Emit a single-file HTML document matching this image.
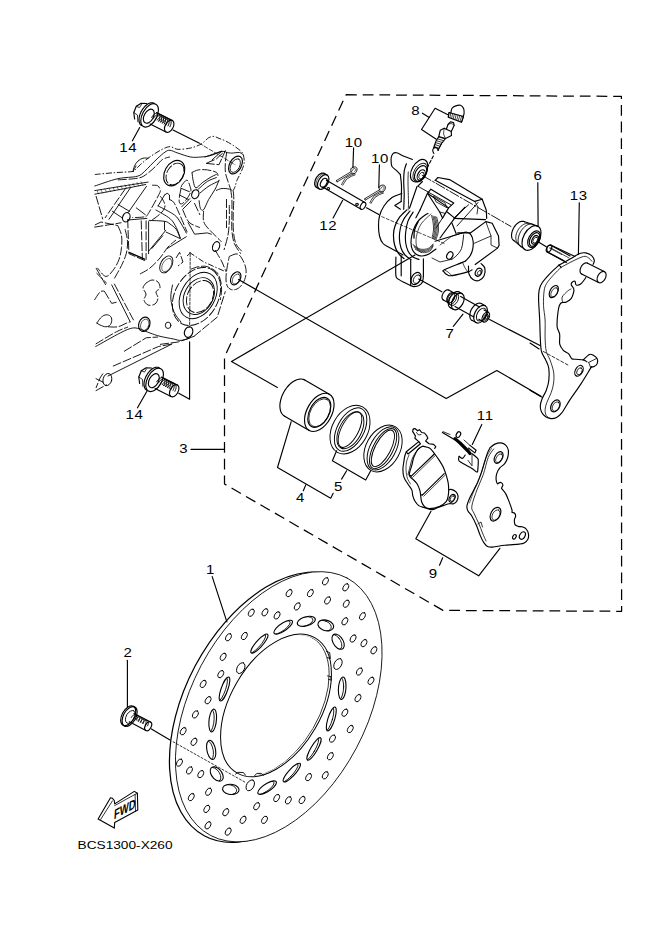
<!DOCTYPE html>
<html><head><meta charset="utf-8"><style>
html,body{margin:0;padding:0;background:#fff;}
svg{display:block;}
</style></head><body>
<svg width="661" height="935" viewBox="0 0 661 935">
<g stroke="#000" fill="none" stroke-width="1.15" stroke-linecap="round" stroke-linejoin="round">
<path d="M346.0,94.7 L621.4,96.4 L621.6,611.3 L443.0,610.4 L224.5,484.0 L224.5,357.0 L346.0,94.7" stroke-dasharray="10.8 5.9" stroke-width="1.25" stroke-linecap="butt"/>
<text x="0" y="0" transform="translate(119.13 151.58) scale(1.25 1)" font-family="Liberation Sans, sans-serif" font-size="12.0" letter-spacing="0.560" fill="#000" stroke="none">14</text>
<text x="0" y="0" transform="translate(125.48 418.58) scale(1.25 1)" font-family="Liberation Sans, sans-serif" font-size="12.0" letter-spacing="0.560" fill="#000" stroke="none">14</text>
<text x="0" y="0" transform="translate(319.28 229.94) scale(1.25 1)" font-family="Liberation Sans, sans-serif" font-size="12.0" letter-spacing="0.560" fill="#000" stroke="none">12</text>
<text x="0" y="0" transform="translate(344.65 146.68) scale(1.25 1)" font-family="Liberation Sans, sans-serif" font-size="12.0" letter-spacing="0.560" fill="#000" stroke="none">10</text>
<text x="0" y="0" transform="translate(370.95 162.98) scale(1.25 1)" font-family="Liberation Sans, sans-serif" font-size="12.0" letter-spacing="0.560" fill="#000" stroke="none">10</text>
<text x="0" y="0" transform="translate(411.33 114.93) scale(1.25 1)" font-family="Liberation Sans, sans-serif" font-size="12.0" letter-spacing="0.560" fill="#000" stroke="none">8</text>
<text x="0" y="0" transform="translate(533.58 179.63) scale(1.25 1)" font-family="Liberation Sans, sans-serif" font-size="12.0" letter-spacing="0.560" fill="#000" stroke="none">6</text>
<text x="0" y="0" transform="translate(569.74 200.03) scale(1.25 1)" font-family="Liberation Sans, sans-serif" font-size="12.0" letter-spacing="0.560" fill="#000" stroke="none">13</text>
<text x="0" y="0" transform="translate(445.52 337.68) scale(1.25 1)" font-family="Liberation Sans, sans-serif" font-size="12.0" letter-spacing="0.560" fill="#000" stroke="none">7</text>
<text x="0" y="0" transform="translate(179.27 453.43) scale(1.25 1)" font-family="Liberation Sans, sans-serif" font-size="12.0" letter-spacing="0.560" fill="#000" stroke="none">3</text>
<text x="0" y="0" transform="translate(296.08 501.73) scale(1.25 1)" font-family="Liberation Sans, sans-serif" font-size="12.0" letter-spacing="0.560" fill="#000" stroke="none">4</text>
<text x="0" y="0" transform="translate(334.09 490.77) scale(1.25 1)" font-family="Liberation Sans, sans-serif" font-size="12.0" letter-spacing="0.560" fill="#000" stroke="none">5</text>
<text x="0" y="0" transform="translate(476.84 419.68) scale(1.25 1)" font-family="Liberation Sans, sans-serif" font-size="12.0" letter-spacing="0.560" fill="#000" stroke="none">11</text>
<text x="0" y="0" transform="translate(428.68 578.03) scale(1.25 1)" font-family="Liberation Sans, sans-serif" font-size="12.0" letter-spacing="0.560" fill="#000" stroke="none">9</text>
<text x="0" y="0" transform="translate(206.11 573.68) scale(1.25 1)" font-family="Liberation Sans, sans-serif" font-size="12.0" letter-spacing="0.560" fill="#000" stroke="none">1</text>
<text x="0" y="0" transform="translate(123.48 656.99) scale(1.25 1)" font-family="Liberation Sans, sans-serif" font-size="12.0" letter-spacing="0.560" fill="#000" stroke="none">2</text>
<text x="0" y="0" transform="translate(77.55 848.61) scale(1.16 1)" font-family="Liberation Sans, sans-serif" font-size="11.8" letter-spacing="0.000" fill="#000" stroke="none">BCS1300-X260</text>
<line x1="353.6" y1="147.9" x2="352.9" y2="167.7" />
<line x1="379.4" y1="164.9" x2="378.8" y2="187.4" />
<line x1="342.7" y1="200.3" x2="333.1" y2="218" />
<line x1="537.8" y1="182.7" x2="538.1" y2="225.4" />
<line x1="579.3" y1="202.7" x2="578.4" y2="254.4" />
<line x1="463" y1="314.2" x2="453.3" y2="326.3" />
<line x1="191" y1="449.4" x2="224" y2="449.4" />
<line x1="305.8" y1="484.9" x2="303.3" y2="490.8" />
<line x1="341.6" y1="479.1" x2="346.6" y2="470.8" />
<line x1="481.8" y1="424.4" x2="472.3" y2="444.5" />
<line x1="442.7" y1="557.8" x2="439.5" y2="565.2" />
<line x1="212.2" y1="576.6" x2="226.9" y2="621.9" />
<line x1="127.4" y1="660.2" x2="127.4" y2="707" />
<line x1="147.2" y1="390.8" x2="137.5" y2="407.8" />
<line x1="139.7" y1="127.5" x2="132.4" y2="140.8" />
<line x1="422.4" y1="113.2" x2="429.3" y2="117.4" />
<path d="M448.4,115.0 L435.1,108.3 L421.5,129.5 L436.3,139.2" />
<path d="M291.2,421.7 L277.5,467.5 L330.7,498.2 L333.2,493.3" />
<path d="M336.6,450.8 L332.4,460.8 L365.7,480.0 L370.7,470.8" />
<path d="M431.0,511.2 L415.8,538.7 L478.7,575.8 L499.9,548.3" />
<line x1="173" y1="130" x2="199" y2="143" />
<path d="M178.7,393.3 L189.6,399.3 L189.6,341.8" />
<path d="M238.5,279.5 L446.2,398.6 L496.8,370.5 L541.0,396.2" />
<path d="M415.0,255.0 L231.5,361.5 L277.4,387.4" />
<line x1="366.5" y1="207.8" x2="378.8" y2="214.6" />
<line x1="433.3" y1="156.1" x2="427.8" y2="166.4" stroke-dasharray="3 2"/>
<line x1="418.7" y1="279" x2="441.8" y2="291.8" />
<line x1="489.6" y1="319.5" x2="540" y2="345.5" />
<line x1="151.4" y1="728.9" x2="170" y2="740" />
<line x1="173.2" y1="741.8" x2="245.8" y2="782.6" stroke-dasharray="2 2" stroke-width="0.8"/>
<g transform="matrix(70.8178 -128.8171 79.2181 43.5505 276.0 706.6)">
</g>
<defs><mask id="mout" maskUnits="userSpaceOnUse" x="0" y="0" width="661" height="935"><rect x="0" y="0" width="661" height="935" fill="#fff"/><ellipse cx="278.8" cy="706.7" rx="145.1" ry="87.30000000000001" transform="rotate(-62.1 278.8 706.7)" fill="#000"/></mask>
<mask id="min" maskUnits="userSpaceOnUse" x="0" y="0" width="661" height="935"><ellipse cx="276.0" cy="705.4" rx="77.4" ry="44.8" transform="rotate(-59.9 276.0 705.4)" fill="#fff"/></mask></defs>
<ellipse cx="278.8" cy="706.7" rx="145.7" ry="87.9" transform="rotate(-62.1 278.8 706.7)" stroke-width="0.8"/>
<g mask="url(#mout)">
<ellipse cx="272.8" cy="707.2" rx="145.7" ry="87.9" transform="rotate(-62.1 272.8 707.2)" stroke-width="1.25"/>
</g>
<ellipse cx="276.0" cy="705.4" rx="78.0" ry="45.4" transform="rotate(-59.9 276.0 705.4)" stroke-width="1.0"/>
<g mask="url(#min)">
<ellipse cx="273.8" cy="705.6" rx="78.0" ry="45.4" transform="rotate(-59.9 273.8 705.6)" stroke-width="0.7"/>
</g>
<path d="M326.5,651.5 L329.7,652.6 L330.4,658.6 L327.3,657.6" stroke-width="0.9"/>
<path d="M327.5,675.9 L330.8,676.5 L331.3,680.2 L328.5,679.3" stroke-width="0.9"/>
<path d="M235.5,774.2 L237.8,772.3 L243.5,772.6 L245.5,775.2" stroke-width="0.9"/>
<path d="M254.8,775.6 L256.8,773.4 L261.3,773.4 L263.5,775.3" stroke-width="0.9"/>
<g transform="matrix(70.8178 -128.8171 79.2181 43.5505 276.0 706.6)">
<circle cx="0.4788" cy="-0.7398" r="0.027" vector-effect="non-scaling-stroke" stroke-width="1"/>
<circle cx="0.5261" cy="-0.6092" r="0.027" vector-effect="non-scaling-stroke" stroke-width="1"/>
<circle cx="0.5473" cy="-0.4754" r="0.027" vector-effect="non-scaling-stroke" stroke-width="1"/>
<circle cx="0.2580" cy="-0.8303" r="0.027" vector-effect="non-scaling-stroke" stroke-width="1"/>
<circle cx="0.3173" cy="-0.6826" r="0.027" vector-effect="non-scaling-stroke" stroke-width="1"/>
<circle cx="0.1238" cy="-0.7772" r="0.027" vector-effect="non-scaling-stroke" stroke-width="1"/>
<circle cx="0.0128" cy="-0.7083" r="0.027" vector-effect="non-scaling-stroke" stroke-width="1"/>
<circle cx="-0.1033" cy="-0.8267" r="0.027" vector-effect="non-scaling-stroke" stroke-width="1"/>
<circle cx="-0.1844" cy="-0.6923" r="0.027" vector-effect="non-scaling-stroke" stroke-width="1"/>
<circle cx="-0.3106" cy="-0.7397" r="0.027" vector-effect="non-scaling-stroke" stroke-width="1"/>
<circle cx="0.9092" cy="-0.1879" r="0.027" vector-effect="non-scaling-stroke" stroke-width="1"/>
<circle cx="0.9399" cy="0.0409" r="0.027" vector-effect="non-scaling-stroke" stroke-width="1"/>
<circle cx="0.7195" cy="-0.4779" r="0.027" vector-effect="non-scaling-stroke" stroke-width="1"/>
<circle cx="0.7893" cy="-0.2714" r="0.027" vector-effect="non-scaling-stroke" stroke-width="1"/>
<circle cx="0.8022" cy="-0.0658" r="0.027" vector-effect="non-scaling-stroke" stroke-width="1"/>
<circle cx="0.8438" cy="0.1331" r="0.027" vector-effect="non-scaling-stroke" stroke-width="1"/>
<circle cx="0.6671" cy="-0.3275" r="0.027" vector-effect="non-scaling-stroke" stroke-width="1"/>
<circle cx="0.8224" cy="0.3567" r="0.027" vector-effect="non-scaling-stroke" stroke-width="1"/>
<circle cx="0.7343" cy="0.2133" r="0.027" vector-effect="non-scaling-stroke" stroke-width="1"/>
<circle cx="0.6586" cy="0.3845" r="0.027" vector-effect="non-scaling-stroke" stroke-width="1"/>
<circle cx="0.6669" cy="0.5146" r="0.027" vector-effect="non-scaling-stroke" stroke-width="1"/>
<circle cx="0.6565" cy="0.6490" r="0.027" vector-effect="non-scaling-stroke" stroke-width="1"/>
<circle cx="0.4826" cy="0.6214" r="0.027" vector-effect="non-scaling-stroke" stroke-width="1"/>
<circle cx="0.4651" cy="0.7834" r="0.027" vector-effect="non-scaling-stroke" stroke-width="1"/>
<circle cx="0.3194" cy="0.7496" r="0.027" vector-effect="non-scaling-stroke" stroke-width="1"/>
<circle cx="0.1894" cy="0.7004" r="0.027" vector-effect="non-scaling-stroke" stroke-width="1"/>
<circle cx="0.1100" cy="0.8396" r="0.027" vector-effect="non-scaling-stroke" stroke-width="1"/>
<circle cx="-0.0056" cy="0.7182" r="0.027" vector-effect="non-scaling-stroke" stroke-width="1"/>
<circle cx="-0.1174" cy="0.7917" r="0.027" vector-effect="non-scaling-stroke" stroke-width="1"/>
<circle cx="-0.3134" cy="0.6917" r="0.027" vector-effect="non-scaling-stroke" stroke-width="1"/>
<circle cx="-0.2480" cy="0.8440" r="0.027" vector-effect="non-scaling-stroke" stroke-width="1"/>
<circle cx="-0.5179" cy="0.6195" r="0.027" vector-effect="non-scaling-stroke" stroke-width="1"/>
<circle cx="-0.4712" cy="0.7507" r="0.027" vector-effect="non-scaling-stroke" stroke-width="1"/>
<circle cx="-0.4508" cy="-0.7685" r="0.027" vector-effect="non-scaling-stroke" stroke-width="1"/>
<circle cx="-0.4786" cy="-0.6073" r="0.027" vector-effect="non-scaling-stroke" stroke-width="1"/>
<circle cx="-0.6501" cy="-0.6370" r="0.027" vector-effect="non-scaling-stroke" stroke-width="1"/>
<circle cx="-0.6638" cy="-0.4985" r="0.027" vector-effect="non-scaling-stroke" stroke-width="1"/>
<circle cx="-0.6488" cy="-0.3692" r="0.027" vector-effect="non-scaling-stroke" stroke-width="1"/>
<circle cx="-0.7282" cy="-0.1998" r="0.027" vector-effect="non-scaling-stroke" stroke-width="1"/>
<circle cx="-0.8171" cy="-0.3388" r="0.027" vector-effect="non-scaling-stroke" stroke-width="1"/>
<circle cx="-0.8366" cy="-0.1256" r="0.027" vector-effect="non-scaling-stroke" stroke-width="1"/>
<circle cx="-0.7940" cy="0.0761" r="0.027" vector-effect="non-scaling-stroke" stroke-width="1"/>
<circle cx="-0.6570" cy="0.3437" r="0.027" vector-effect="non-scaling-stroke" stroke-width="1"/>
<circle cx="-0.5426" cy="0.4939" r="0.027" vector-effect="non-scaling-stroke" stroke-width="1"/>
<circle cx="-0.7826" cy="0.2843" r="0.027" vector-effect="non-scaling-stroke" stroke-width="1"/>
<circle cx="-0.7125" cy="0.4918" r="0.027" vector-effect="non-scaling-stroke" stroke-width="1"/>
<circle cx="-0.9305" cy="-0.0266" r="0.027" vector-effect="non-scaling-stroke" stroke-width="1"/>
<circle cx="-0.9018" cy="0.2028" r="0.027" vector-effect="non-scaling-stroke" stroke-width="1"/>
<ellipse cx="0" cy="0" rx="0.036" ry="0.088" transform="translate(0.4969 -0.3533) rotate(-45.4)" vector-effect="non-scaling-stroke" stroke-width="1.1"/>
<clipPath id="cs0"><ellipse cx="0" cy="0" rx="0.036" ry="0.088" transform="translate(0.4969 -0.3533) rotate(-45.4)"/></clipPath>
<g clip-path="url(#cs0)"><ellipse cx="0" cy="0" rx="0.036" ry="0.088" transform="translate(-0.0102 -0.0211) translate(0.4969 -0.3533) rotate(-45.4)" vector-effect="non-scaling-stroke" stroke-width="0.9"/></g>
<ellipse cx="0" cy="0" rx="0.036" ry="0.088" transform="translate(0.6078 -0.1609) rotate(-24.8)" vector-effect="non-scaling-stroke" stroke-width="1.1"/>
<clipPath id="cs1"><ellipse cx="0" cy="0" rx="0.036" ry="0.088" transform="translate(0.6078 -0.1609) rotate(-24.8)"/></clipPath>
<g clip-path="url(#cs1)"><ellipse cx="0" cy="0" rx="0.036" ry="0.088" transform="translate(-0.0102 -0.0211) translate(0.6078 -0.1609) rotate(-24.8)" vector-effect="non-scaling-stroke" stroke-width="0.9"/></g>
<ellipse cx="0" cy="0" rx="0.036" ry="0.088" transform="translate(0.6473 0.0500) rotate(-5.6)" vector-effect="non-scaling-stroke" stroke-width="1.1"/>
<clipPath id="cs2"><ellipse cx="0" cy="0" rx="0.036" ry="0.088" transform="translate(0.6473 0.0500) rotate(-5.6)"/></clipPath>
<g clip-path="url(#cs2)"><ellipse cx="0" cy="0" rx="0.036" ry="0.088" transform="translate(-0.0102 -0.0211) translate(0.6473 0.0500) rotate(-5.6)" vector-effect="non-scaling-stroke" stroke-width="0.9"/></g>
<ellipse cx="0" cy="0" rx="0.036" ry="0.088" transform="translate(0.5904 0.2561) rotate(13.5)" vector-effect="non-scaling-stroke" stroke-width="1.1"/>
<clipPath id="cs3"><ellipse cx="0" cy="0" rx="0.036" ry="0.088" transform="translate(0.5904 0.2561) rotate(13.5)"/></clipPath>
<g clip-path="url(#cs3)"><ellipse cx="0" cy="0" rx="0.036" ry="0.088" transform="translate(-0.0102 -0.0211) translate(0.5904 0.2561) rotate(13.5)" vector-effect="non-scaling-stroke" stroke-width="0.9"/></g>
<ellipse cx="0" cy="0" rx="0.036" ry="0.088" transform="translate(0.3266 0.5437) rotate(49.0)" vector-effect="non-scaling-stroke" stroke-width="1.1"/>
<clipPath id="cs4"><ellipse cx="0" cy="0" rx="0.036" ry="0.088" transform="translate(0.3266 0.5437) rotate(49.0)"/></clipPath>
<g clip-path="url(#cs4)"><ellipse cx="0" cy="0" rx="0.036" ry="0.088" transform="translate(-0.0102 -0.0211) translate(0.3266 0.5437) rotate(49.0)" vector-effect="non-scaling-stroke" stroke-width="0.9"/></g>
<ellipse cx="0" cy="0" rx="0.036" ry="0.088" transform="translate(0.1073 0.6021) rotate(69.9)" vector-effect="non-scaling-stroke" stroke-width="1.1"/>
<clipPath id="cs5"><ellipse cx="0" cy="0" rx="0.036" ry="0.088" transform="translate(0.1073 0.6021) rotate(69.9)"/></clipPath>
<g clip-path="url(#cs5)"><ellipse cx="0" cy="0" rx="0.036" ry="0.088" transform="translate(-0.0102 -0.0211) translate(0.1073 0.6021) rotate(69.9)" vector-effect="non-scaling-stroke" stroke-width="0.9"/></g>
<ellipse cx="0" cy="0" rx="0.036" ry="0.088" transform="translate(-0.1282 0.5943) rotate(92.2)" vector-effect="non-scaling-stroke" stroke-width="1.1"/>
<clipPath id="cs6"><ellipse cx="0" cy="0" rx="0.036" ry="0.088" transform="translate(-0.1282 0.5943) rotate(92.2)"/></clipPath>
<g clip-path="url(#cs6)"><ellipse cx="0" cy="0" rx="0.036" ry="0.088" transform="translate(-0.0102 -0.0211) translate(-0.1282 0.5943) rotate(92.2)" vector-effect="non-scaling-stroke" stroke-width="0.9"/></g>
<ellipse cx="0" cy="0" rx="0.036" ry="0.088" transform="translate(-0.3417 0.5049) rotate(114.1)" vector-effect="non-scaling-stroke" stroke-width="1.1"/>
<clipPath id="cs7"><ellipse cx="0" cy="0" rx="0.036" ry="0.088" transform="translate(-0.3417 0.5049) rotate(114.1)"/></clipPath>
<g clip-path="url(#cs7)"><ellipse cx="0" cy="0" rx="0.036" ry="0.088" transform="translate(-0.0102 -0.0211) translate(-0.3417 0.5049) rotate(114.1)" vector-effect="non-scaling-stroke" stroke-width="0.9"/></g>
<ellipse cx="0" cy="0" rx="0.036" ry="0.088" transform="translate(-0.5120 0.3454) rotate(136.0)" vector-effect="non-scaling-stroke" stroke-width="1.1"/>
<clipPath id="cs8"><ellipse cx="0" cy="0" rx="0.036" ry="0.088" transform="translate(-0.5120 0.3454) rotate(136.0)"/></clipPath>
<g clip-path="url(#cs8)"><ellipse cx="0" cy="0" rx="0.036" ry="0.088" transform="translate(-0.0102 -0.0211) translate(-0.5120 0.3454) rotate(136.0)" vector-effect="non-scaling-stroke" stroke-width="0.9"/></g>
<ellipse cx="0" cy="0" rx="0.036" ry="0.088" transform="translate(-0.6417 0.0031) rotate(169.7)" vector-effect="non-scaling-stroke" stroke-width="1.1"/>
<clipPath id="cs9"><ellipse cx="0" cy="0" rx="0.036" ry="0.088" transform="translate(-0.6417 0.0031) rotate(169.7)"/></clipPath>
<g clip-path="url(#cs9)"><ellipse cx="0" cy="0" rx="0.036" ry="0.088" transform="translate(-0.0102 -0.0211) translate(-0.6417 0.0031) rotate(169.7)" vector-effect="non-scaling-stroke" stroke-width="0.9"/></g>
<ellipse cx="0" cy="0" rx="0.036" ry="0.088" transform="translate(-0.5961 -0.2157) rotate(-170.1)" vector-effect="non-scaling-stroke" stroke-width="1.1"/>
<clipPath id="cs10"><ellipse cx="0" cy="0" rx="0.036" ry="0.088" transform="translate(-0.5961 -0.2157) rotate(-170.1)"/></clipPath>
<g clip-path="url(#cs10)"><ellipse cx="0" cy="0" rx="0.036" ry="0.088" transform="translate(-0.0102 -0.0211) translate(-0.5961 -0.2157) rotate(-170.1)" vector-effect="non-scaling-stroke" stroke-width="0.9"/></g>
<ellipse cx="0" cy="0" rx="0.036" ry="0.088" transform="translate(-0.4705 -0.3974) rotate(-149.8)" vector-effect="non-scaling-stroke" stroke-width="1.1"/>
<clipPath id="cs11"><ellipse cx="0" cy="0" rx="0.036" ry="0.088" transform="translate(-0.4705 -0.3974) rotate(-149.8)"/></clipPath>
<g clip-path="url(#cs11)"><ellipse cx="0" cy="0" rx="0.036" ry="0.088" transform="translate(-0.0102 -0.0211) translate(-0.4705 -0.3974) rotate(-149.8)" vector-effect="non-scaling-stroke" stroke-width="0.9"/></g>
<ellipse cx="0" cy="0" rx="0.036" ry="0.088" transform="translate(-0.2903 -0.5395) rotate(-128.3)" vector-effect="non-scaling-stroke" stroke-width="1.1"/>
<clipPath id="cs12"><ellipse cx="0" cy="0" rx="0.036" ry="0.088" transform="translate(-0.2903 -0.5395) rotate(-128.3)"/></clipPath>
<g clip-path="url(#cs12)"><ellipse cx="0" cy="0" rx="0.036" ry="0.088" transform="translate(-0.0102 -0.0211) translate(-0.2903 -0.5395) rotate(-128.3)" vector-effect="non-scaling-stroke" stroke-width="0.9"/></g>
<ellipse cx="0" cy="0" rx="0.036" ry="0.088" transform="translate(-0.0639 -0.5930) rotate(-106.1)" vector-effect="non-scaling-stroke" stroke-width="1.1"/>
<clipPath id="cs13"><ellipse cx="0" cy="0" rx="0.036" ry="0.088" transform="translate(-0.0639 -0.5930) rotate(-106.1)"/></clipPath>
<g clip-path="url(#cs13)"><ellipse cx="0" cy="0" rx="0.036" ry="0.088" transform="translate(-0.0102 -0.0211) translate(-0.0639 -0.5930) rotate(-106.1)" vector-effect="non-scaling-stroke" stroke-width="0.9"/></g>
<ellipse cx="0" cy="0" rx="0.036" ry="0.088" transform="translate(0.3212 -0.4967) rotate(-67.1)" vector-effect="non-scaling-stroke" stroke-width="1.1"/>
<clipPath id="cs14"><ellipse cx="0" cy="0" rx="0.036" ry="0.088" transform="translate(0.3212 -0.4967) rotate(-67.1)"/></clipPath>
<g clip-path="url(#cs14)"><ellipse cx="0" cy="0" rx="0.036" ry="0.088" transform="translate(-0.0102 -0.0211) translate(0.3212 -0.4967) rotate(-67.1)" vector-effect="non-scaling-stroke" stroke-width="0.9"/></g>
<circle cx="0.1142" cy="-0.5464" r="0.04" vector-effect="non-scaling-stroke" stroke-width="1"/>
<circle cx="0.4571" cy="0.3740" r="0.04" vector-effect="non-scaling-stroke" stroke-width="1"/>
<circle cx="-0.5534" cy="0.1703" r="0.04" vector-effect="non-scaling-stroke" stroke-width="1"/>
</g>
<ellipse cx="319.3" cy="412.4" rx="20.7" ry="12.4" transform="rotate(-61.0 319.3 412.4)" />
<line x1="329.3355591390992" y1="394.2953720622145" x2="304.73555913909917" y2="379.99537206221447" />
<line x1="309.26444086090083" y1="430.5046279377855" x2="284.6644408609008" y2="416.20462793778546" />
<path d="M284.7,416.2 L284.0,415.8 L283.3,415.2 L282.7,414.6 L282.2,414.0 L281.7,413.2 L281.2,412.4 L280.8,411.5 L280.5,410.6 L280.3,409.6 L280.1,408.6 L280.0,407.5 L279.9,406.4 L279.9,405.2 L280.0,404.0 L280.1,402.8 L280.4,401.5 L280.6,400.3 L281.0,399.0 L281.4,397.7 L281.8,396.4 L282.3,395.2 L282.9,393.9 L283.5,392.7 L284.2,391.5 L284.9,390.3 L285.7,389.2 L286.5,388.0 L287.3,387.0 L288.2,386.0 L289.1,385.0 L290.0,384.1 L290.9,383.3 L291.9,382.5 L292.9,381.8 L293.9,381.2 L294.9,380.6 L295.8,380.2 L296.8,379.8 L297.8,379.5 L298.8,379.2 L299.7,379.1 L300.6,379.0 L301.5,379.0 L302.4,379.2 L303.2,379.4 L304.0,379.6 L304.7,380.0" />
<ellipse cx="319.3" cy="412.4" rx="16.2" ry="9.7" transform="rotate(-61.0 319.3 412.4)" />
<ellipse cx="319.7" cy="412.7" rx="15.2" ry="9.1" transform="rotate(-61.0 319.7 412.7)" stroke-width="0.7"/>
<ellipse cx="350.0" cy="429.6" rx="26.0" ry="17.8" transform="rotate(-61 350.0 429.6)" stroke-width="0.95"/>
<ellipse cx="350.6" cy="429.6" rx="23.6" ry="13.3" transform="rotate(-61.5 350.6 429.6)" stroke-width="0.95"/>
<ellipse cx="350.4" cy="430.3" rx="20.0" ry="11.0" transform="rotate(-62 350.4 430.3)" stroke-width="0.95"/>
<ellipse cx="350.0" cy="429.6" rx="19.6" ry="8.6" transform="rotate(-62.5 350.0 429.6)" stroke-width="0.95"/>
<ellipse cx="383.0" cy="448.5" rx="25.0" ry="17.0" transform="rotate(-61 383.0 448.5)" stroke-width="0.95"/>
<ellipse cx="383.0" cy="448.4" rx="23.6" ry="12.8" transform="rotate(-61.5 383.0 448.4)" stroke-width="0.95"/>
<ellipse cx="383.1" cy="448.6" rx="22.2" ry="9.9" transform="rotate(-62 383.1 448.6)" stroke-width="0.95"/>
<ellipse cx="382.9" cy="448.4" rx="20.2" ry="7.8" transform="rotate(-62.5 382.9 448.4)" stroke-width="0.95"/>
<path d="M134.6,119.0 L133.8,112.5 L136.3,106.3 L140.8,103.4 L146.5,103.5" />
<path d="M136.3,106.3 L139.5,107.6 L141.5,104.5" stroke-width="0.8"/>
<path d="M133.8,112.5 L137.5,115.0 L137.8,121.8" stroke-width="0.8"/>
<ellipse cx="149.6" cy="115.4" rx="12.8" ry="7.2" transform="rotate(-61.0 149.6 115.4)" />
<path d="M141.6,125.6 L141.2,125.4 L140.9,125.1 L140.5,124.7 L140.2,124.3 L139.9,123.9 L139.7,123.4 L139.5,122.8 L139.3,122.3 L139.2,121.7 L139.1,121.1 L139.0,120.4 L139.0,119.7 L139.0,119.0 L139.1,118.3 L139.2,117.5 L139.3,116.7 L139.5,116.0 L139.7,115.2 L140.0,114.4 L140.3,113.6 L140.6,112.9 L141.0,112.1 L141.3,111.3 L141.8,110.6 L142.2,109.8 L142.7,109.1 L143.2,108.4 L143.7,107.8 L144.2,107.1 L144.7,106.6 L145.3,106.0 L145.9,105.5 L146.5,105.0 L147.0,104.5 L147.6,104.1 L148.2,103.8 L148.8,103.5 L149.4,103.2 L150.0,103.0 L150.5,102.9 L151.1,102.8 L151.6,102.7 L152.2,102.7 L152.7,102.8 L153.2,102.9 L153.6,103.0 L154.1,103.2" />
<ellipse cx="148.8" cy="116.2" rx="7.6" ry="4.6" transform="rotate(-61.0 148.8 116.2)" />
<ellipse cx="169.2" cy="126.3" rx="6.6" ry="4.0" transform="rotate(-61.0 169.2 126.3)" />
<line x1="172.3997434936258" y1="120.52750993287998" x2="156.49974349362583" y2="112.52750993287998" />
<line x1="166.00025650637417" y1="132.07249006712001" x2="150.1002565063742" y2="124.07249006712001" />
<path d="M151.7,117.3 L152.3,116.4 L152.9,115.6 L153.6,114.8 L154.4,114.2 L155.2,113.7 L156.0,113.4 L156.7,113.2 L157.4,113.2 L158.1,113.3 L158.6,113.6 L159.1,114.1 L159.5,114.7 L159.7,115.5 L159.9,116.3 L159.9,117.2 L159.7,118.2 L159.5,119.2 L159.1,120.2 L158.6,121.2" stroke-width="0.95"/>
<path d="M153.6,118.3 L154.2,117.3 L154.8,116.5 L155.5,115.7 L156.3,115.1 L157.0,114.6 L157.8,114.3 L158.6,114.1 L159.3,114.1 L159.9,114.3 L160.5,114.6 L161.0,115.1 L161.4,115.7 L161.6,116.4 L161.7,117.2 L161.7,118.2 L161.6,119.1 L161.4,120.1 L161.0,121.1 L160.5,122.1" stroke-width="0.95"/>
<path d="M155.4,119.2 L156.0,118.3 L156.7,117.4 L157.4,116.7 L158.1,116.1 L158.9,115.6 L159.7,115.2 L160.5,115.1 L161.2,115.1 L161.8,115.2 L162.4,115.5 L162.9,116.0 L163.2,116.6 L163.5,117.3 L163.6,118.2 L163.6,119.1 L163.5,120.1 L163.2,121.1 L162.9,122.1 L162.4,123.0" stroke-width="0.95"/>
<path d="M157.3,120.1 L157.9,119.2 L158.5,118.4 L159.3,117.6 L160.0,117.0 L160.8,116.5 L161.6,116.2 L162.3,116.0 L163.0,116.0 L163.7,116.2 L164.3,116.5 L164.7,116.9 L165.1,117.5 L165.4,118.3 L165.5,119.1 L165.5,120.0 L165.4,121.0 L165.1,122.0 L164.7,123.0 L164.2,124.0" stroke-width="0.95"/>
<path d="M159.2,121.1 L159.8,120.2 L160.4,119.3 L161.1,118.6 L161.9,117.9 L162.7,117.5 L163.4,117.1 L164.2,116.9 L164.9,116.9 L165.6,117.1 L166.1,117.4 L166.6,117.9 L167.0,118.5 L167.2,119.2 L167.4,120.1 L167.4,121.0 L167.2,121.9 L167.0,122.9 L166.6,123.9 L166.1,124.9" stroke-width="0.95"/>
<path d="M161.1,122.0 L161.6,121.1 L162.3,120.3 L163.0,119.5 L163.8,118.9 L164.5,118.4 L165.3,118.1 L166.1,117.9 L166.8,117.9 L167.4,118.0 L168.0,118.4 L168.5,118.8 L168.8,119.4 L169.1,120.2 L169.2,121.0 L169.2,121.9 L169.1,122.9 L168.8,123.9 L168.5,124.9 L168.0,125.9" stroke-width="0.95"/>
<path d="M162.9,123.0 L163.5,122.0 L164.2,121.2 L164.9,120.5 L165.6,119.8 L166.4,119.3 L167.2,119.0 L167.9,118.8 L168.6,118.8 L169.3,119.0 L169.9,119.3 L170.3,119.8 L170.7,120.4 L171.0,121.1 L171.1,121.9 L171.1,122.9 L171.0,123.8 L170.7,124.8 L170.3,125.8 L169.9,126.8" stroke-width="0.95"/>
<path d="M139.6,383.5 L138.8,377.0 L141.3,370.8 L145.8,367.9 L151.5,368.0" />
<path d="M141.3,370.8 L144.5,372.1 L146.5,369.0" stroke-width="0.8"/>
<path d="M138.8,377.0 L142.5,379.5 L142.8,386.3" stroke-width="0.8"/>
<ellipse cx="154.6" cy="379.9" rx="12.8" ry="7.2" transform="rotate(-61.0 154.6 379.9)" />
<path d="M146.6,390.1 L146.2,389.9 L145.9,389.6 L145.5,389.2 L145.2,388.8 L144.9,388.4 L144.7,387.9 L144.5,387.3 L144.3,386.8 L144.2,386.2 L144.1,385.6 L144.0,384.9 L144.0,384.2 L144.0,383.5 L144.1,382.8 L144.2,382.0 L144.3,381.2 L144.5,380.5 L144.7,379.7 L145.0,378.9 L145.3,378.1 L145.6,377.4 L146.0,376.6 L146.3,375.8 L146.8,375.1 L147.2,374.3 L147.7,373.6 L148.2,372.9 L148.7,372.3 L149.2,371.6 L149.7,371.1 L150.3,370.5 L150.9,370.0 L151.5,369.5 L152.0,369.0 L152.6,368.6 L153.2,368.3 L153.8,368.0 L154.4,367.7 L155.0,367.5 L155.5,367.4 L156.1,367.3 L156.6,367.2 L157.2,367.2 L157.7,367.3 L158.2,367.4 L158.6,367.5 L159.1,367.7" />
<ellipse cx="153.8" cy="380.7" rx="7.6" ry="4.6" transform="rotate(-61.0 153.8 380.7)" />
<ellipse cx="174.2" cy="390.8" rx="6.6" ry="4.0" transform="rotate(-61.0 174.2 390.8)" />
<line x1="177.3997434936258" y1="385.02750993288" x2="161.49974349362583" y2="377.02750993288" />
<line x1="171.00025650637417" y1="396.57249006712004" x2="155.1002565063742" y2="388.57249006712004" />
<path d="M156.7,381.8 L157.3,380.9 L157.9,380.1 L158.6,379.3 L159.4,378.7 L160.2,378.2 L161.0,377.9 L161.7,377.7 L162.4,377.7 L163.1,377.8 L163.6,378.1 L164.1,378.6 L164.5,379.2 L164.7,380.0 L164.9,380.8 L164.9,381.7 L164.7,382.7 L164.5,383.7 L164.1,384.7 L163.6,385.7" stroke-width="0.95"/>
<path d="M158.6,382.8 L159.2,381.8 L159.8,381.0 L160.5,380.2 L161.3,379.6 L162.0,379.1 L162.8,378.8 L163.6,378.6 L164.3,378.6 L164.9,378.8 L165.5,379.1 L166.0,379.6 L166.4,380.2 L166.6,380.9 L166.7,381.7 L166.7,382.7 L166.6,383.6 L166.4,384.6 L166.0,385.6 L165.5,386.6" stroke-width="0.95"/>
<path d="M160.4,383.7 L161.0,382.8 L161.7,381.9 L162.4,381.2 L163.1,380.6 L163.9,380.1 L164.7,379.7 L165.5,379.6 L166.2,379.6 L166.8,379.7 L167.4,380.0 L167.9,380.5 L168.2,381.1 L168.5,381.8 L168.6,382.7 L168.6,383.6 L168.5,384.6 L168.2,385.6 L167.9,386.6 L167.4,387.5" stroke-width="0.95"/>
<path d="M162.3,384.6 L162.9,383.7 L163.5,382.9 L164.3,382.1 L165.0,381.5 L165.8,381.0 L166.6,380.7 L167.3,380.5 L168.0,380.5 L168.7,380.7 L169.3,381.0 L169.7,381.4 L170.1,382.0 L170.4,382.8 L170.5,383.6 L170.5,384.5 L170.4,385.5 L170.1,386.5 L169.7,387.5 L169.2,388.5" stroke-width="0.95"/>
<path d="M164.2,385.6 L164.8,384.7 L165.4,383.8 L166.1,383.1 L166.9,382.4 L167.7,382.0 L168.4,381.6 L169.2,381.4 L169.9,381.4 L170.6,381.6 L171.1,381.9 L171.6,382.4 L172.0,383.0 L172.2,383.7 L172.4,384.6 L172.4,385.5 L172.2,386.4 L172.0,387.4 L171.6,388.4 L171.1,389.4" stroke-width="0.95"/>
<path d="M166.1,386.5 L166.6,385.6 L167.3,384.8 L168.0,384.0 L168.8,383.4 L169.5,382.9 L170.3,382.6 L171.1,382.4 L171.8,382.4 L172.4,382.5 L173.0,382.9 L173.5,383.3 L173.8,383.9 L174.1,384.7 L174.2,385.5 L174.2,386.4 L174.1,387.4 L173.8,388.4 L173.5,389.4 L173.0,390.4" stroke-width="0.95"/>
<path d="M167.9,387.5 L168.5,386.5 L169.2,385.7 L169.9,385.0 L170.6,384.3 L171.4,383.8 L172.2,383.5 L172.9,383.3 L173.6,383.3 L174.3,383.5 L174.9,383.8 L175.3,384.3 L175.7,384.9 L176.0,385.6 L176.1,386.4 L176.1,387.4 L176.0,388.3 L175.7,389.3 L175.3,390.3 L174.9,391.3" stroke-width="0.95"/>
<ellipse cx="128.2" cy="715.7" rx="10.8" ry="6.2" transform="rotate(-61.0 128.2 715.7)" />
<ellipse cx="129.6" cy="716.5" rx="10.8" ry="6.2" transform="rotate(-61.0 129.6 716.5)" />
<ellipse cx="130.4" cy="716.9" rx="7.0" ry="4.2" transform="rotate(-61.0 130.4 716.9)" stroke-width="0.8"/>
<ellipse cx="148.2" cy="726.3" rx="4.8" ry="2.9" transform="rotate(-61.0 148.2 726.3)" />
<line x1="150.5270861771824" y1="722.1018254057309" x2="134.0270861771824" y2="713.441825405731" />
<line x1="145.87291382281757" y1="730.498174594269" x2="129.37291382281757" y2="721.8381745942692" />
<path d="M131.4,717.4 L131.8,716.7 L132.3,716.1 L132.8,715.6 L133.3,715.1 L133.9,714.8 L134.5,714.5 L135.0,714.4 L135.5,714.4 L136.0,714.5 L136.4,714.7 L136.8,715.1 L137.0,715.5 L137.2,716.0 L137.3,716.7 L137.3,717.3 L137.2,718.0 L137.1,718.8 L136.8,719.5 L136.4,720.2" stroke-width="0.95"/>
<path d="M133.6,718.5 L134.0,717.9 L134.5,717.3 L135.0,716.7 L135.5,716.3 L136.1,715.9 L136.7,715.7 L137.2,715.5 L137.7,715.5 L138.2,715.6 L138.6,715.9 L139.0,716.2 L139.2,716.7 L139.4,717.2 L139.5,717.8 L139.5,718.5 L139.4,719.2 L139.3,719.9 L139.0,720.6 L138.6,721.4" stroke-width="0.95"/>
<path d="M135.8,719.7 L136.2,719.0 L136.7,718.4 L137.2,717.9 L137.7,717.4 L138.3,717.1 L138.9,716.8 L139.4,716.7 L139.9,716.7 L140.4,716.8 L140.8,717.0 L141.2,717.4 L141.4,717.8 L141.6,718.4 L141.7,719.0 L141.7,719.6 L141.6,720.3 L141.5,721.1 L141.2,721.8 L140.8,722.5" stroke-width="0.95"/>
<path d="M138.0,720.9 L138.4,720.2 L138.9,719.6 L139.4,719.0 L139.9,718.6 L140.5,718.2 L141.1,718.0 L141.6,717.8 L142.1,717.8 L142.6,718.0 L143.0,718.2 L143.4,718.5 L143.6,719.0 L143.8,719.5 L143.9,720.1 L143.9,720.8 L143.8,721.5 L143.7,722.2 L143.4,723.0 L143.0,723.7" stroke-width="0.95"/>
<path d="M140.2,722.0 L140.6,721.3 L141.1,720.7 L141.6,720.2 L142.1,719.7 L142.7,719.4 L143.3,719.1 L143.8,719.0 L144.3,719.0 L144.8,719.1 L145.2,719.3 L145.6,719.7 L145.8,720.1 L146.0,720.7 L146.1,721.3 L146.1,721.9 L146.0,722.7 L145.9,723.4 L145.6,724.1 L145.2,724.8" stroke-width="0.95"/>
<path d="M142.4,723.2 L142.8,722.5 L143.3,721.9 L143.8,721.3 L144.3,720.9 L144.9,720.5 L145.5,720.3 L146.0,720.2 L146.5,720.2 L147.0,720.3 L147.4,720.5 L147.8,720.8 L148.0,721.3 L148.2,721.8 L148.3,722.4 L148.3,723.1 L148.2,723.8 L148.1,724.5 L147.8,725.3 L147.4,726.0" stroke-width="0.95"/>
<ellipse cx="363.0" cy="205.8" rx="3.9" ry="2.3" transform="rotate(-61.0 363.0 205.8)" />
<line x1="364.8907575189607" y1="202.38898314215638" x2="326.3907575189607" y2="180.18898314215636" />
<line x1="361.1092424810393" y1="209.21101685784365" x2="322.6092424810393" y2="187.01101685784363" />
<ellipse cx="323.2" cy="182.0" rx="8.0" ry="4.8" transform="rotate(-61.0 323.2 182.0)" />
<line x1="327.0784769619707" y1="175.00304234288484" x2="324.2784769619707" y2="173.45104234288485" />
<line x1="319.3215230380293" y1="188.99695765711516" x2="316.5215230380293" y2="187.44495765711517" />
<path d="M316.5,187.4 L316.2,187.3 L316.0,187.1 L315.8,186.8 L315.6,186.6 L315.4,186.3 L315.2,186.0 L315.0,185.6 L314.9,185.3 L314.8,184.9 L314.8,184.5 L314.7,184.1 L314.7,183.6 L314.7,183.2 L314.7,182.7 L314.8,182.3 L314.9,181.8 L315.0,181.3 L315.1,180.8 L315.2,180.3 L315.4,179.8 L315.6,179.3 L315.8,178.8 L316.1,178.4 L316.3,177.9 L316.6,177.4 L316.9,177.0 L317.2,176.6 L317.5,176.2 L317.9,175.8 L318.2,175.4 L318.6,175.0 L318.9,174.7 L319.3,174.4 L319.7,174.2 L320.1,173.9 L320.5,173.7 L320.8,173.5 L321.2,173.4 L321.6,173.2 L322.0,173.2 L322.3,173.1 L322.7,173.1 L323.0,173.1 L323.4,173.1 L323.7,173.2 L324.0,173.3 L324.3,173.5" stroke-width="1.2"/>
<path d="M317.9,188.2 L317.5,187.9 L317.1,187.6 L316.8,187.1 L316.5,186.6 L316.3,186.0 L316.2,185.4 L316.1,184.7 L316.1,184.0 L316.1,183.2 L316.3,182.4 L316.5,181.7 L316.7,180.9 L317.0,180.1 L317.4,179.3 L317.8,178.5 L318.3,177.8 L318.8,177.1 L319.3,176.5 L319.9,175.9 L320.5,175.4 L321.1,174.9 L321.7,174.5 L322.3,174.2 L323.0,174.0 L323.6,173.9 L324.1,173.9 L324.7,173.9 L325.2,174.0 L325.7,174.2" stroke-width="0.7"/>
<ellipse cx="323.8" cy="182.8" rx="4.8" ry="2.9" transform="rotate(-61.0 323.8 182.8)" />
<ellipse cx="328.3" cy="188.6" rx="1.3" ry="1.1" transform="rotate(0 328.3 188.6)" />
<ellipse cx="357.0" cy="204.3" rx="1.3" ry="1.1" transform="rotate(0 357.0 204.3)" />
<path d="M351.2,171.6 L336.6,180.4" stroke-width="0.8"/>
<path d="M351.8,173.0 L337.2,181.8" stroke-width="0.8"/>
<path d="M336.6,180.4 L336.3,181.3 L337.2,181.8" stroke-width="0.8"/>
<path d="M351.2,171.6 C351.1,171.2 350.5,169.7 350.8,169.0 C351.1,168.3 352.0,167.5 352.8,167.2 C353.6,166.9 354.9,166.8 355.6,167.0 C356.3,167.2 356.8,167.9 357.0,168.6 C357.2,169.3 357.0,170.6 356.6,171.4 C356.2,172.2 355.4,173.3 354.6,173.6 C353.8,173.9 352.3,173.1 351.8,173.0" stroke-width="0.9"/>
<path d="M352.4,170.8 C352.6,170.5 352.9,169.2 353.4,168.8 C353.9,168.4 354.8,168.4 355.2,168.6 C355.6,168.8 355.8,169.6 355.6,170.2 C355.4,170.8 354.4,171.7 354.2,172.0" stroke-width="0.6"/>
<path d="M354.6,173.6 C354.0,173.8 352.1,174.5 351.0,175.0 C349.9,175.5 349.0,176.2 348.2,176.6 C347.4,177.0 346.6,177.1 346.0,177.6 C345.4,178.1 344.9,178.8 344.4,179.6 C343.9,180.4 343.3,181.4 342.8,182.2 C342.3,183.0 341.8,184.2 341.6,184.6" stroke-width="0.8"/>
<path d="M355.2,174.8 C354.6,175.0 352.7,175.7 351.6,176.2 C350.5,176.7 349.6,177.4 348.8,177.9 C348.0,178.4 347.4,178.5 346.8,179.0 C346.2,179.5 345.9,180.3 345.4,181.0 C344.9,181.7 344.2,182.7 343.8,183.4 C343.4,184.1 343.0,184.9 342.8,185.2" stroke-width="0.8"/>
<path d="M379.5,189.8 L364.9,198.6" stroke-width="0.8"/>
<path d="M380.1,191.2 L365.5,200.0" stroke-width="0.8"/>
<path d="M364.9,198.6 L364.6,199.5 L365.5,200.0" stroke-width="0.8"/>
<path d="M379.5,189.8 C379.4,189.4 378.8,187.9 379.1,187.2 C379.4,186.5 380.3,185.7 381.1,185.4 C381.9,185.1 383.2,185.0 383.9,185.2 C384.6,185.4 385.1,186.1 385.3,186.8 C385.5,187.5 385.3,188.8 384.9,189.6 C384.5,190.4 383.7,191.5 382.9,191.8 C382.1,192.1 380.6,191.3 380.1,191.2" stroke-width="0.9"/>
<path d="M380.7,189.0 C380.9,188.7 381.2,187.4 381.7,187.0 C382.2,186.6 383.1,186.6 383.5,186.8 C383.9,187.0 384.1,187.8 383.9,188.4 C383.7,189.0 382.7,189.9 382.5,190.2" stroke-width="0.6"/>
<path d="M382.9,191.8 C382.3,192.0 380.4,192.7 379.3,193.2 C378.2,193.7 377.3,194.4 376.5,194.8 C375.7,195.2 374.9,195.3 374.3,195.8 C373.7,196.3 373.2,197.0 372.7,197.8 C372.2,198.6 371.6,199.6 371.1,200.4 C370.6,201.2 370.1,202.4 369.9,202.8" stroke-width="0.8"/>
<path d="M383.5,193.0 C382.9,193.2 381.0,193.9 379.9,194.4 C378.8,194.9 377.9,195.6 377.1,196.1 C376.3,196.6 375.7,196.7 375.1,197.2 C374.5,197.7 374.2,198.5 373.7,199.2 C373.2,199.9 372.5,200.9 372.1,201.6 C371.7,202.3 371.3,203.1 371.1,203.4" stroke-width="0.8"/>
<ellipse cx="450.8" cy="297.7" rx="5.6" ry="3.4" transform="rotate(-61.0 450.8 297.7)" />
<line x1="453.5274338733795" y1="292.7696296400194" x2="448.7149338733795" y2="290.10212964001937" />
<line x1="448.0975661266205" y1="302.56537035998065" x2="443.2850661266205" y2="299.89787035998063" />
<path d="M443.3,299.9 L443.1,299.8 L442.9,299.6 L442.8,299.5 L442.6,299.3 L442.5,299.1 L442.4,298.9 L442.3,298.6 L442.2,298.4 L442.1,298.1 L442.0,297.8 L442.0,297.5 L442.0,297.2 L442.0,296.9 L442.0,296.6 L442.1,296.3 L442.1,295.9 L442.2,295.6 L442.3,295.2 L442.4,294.9 L442.5,294.6 L442.7,294.2 L442.8,293.9 L443.0,293.5 L443.2,293.2 L443.3,292.9 L443.6,292.6 L443.8,292.3 L444.0,292.0 L444.2,291.7 L444.5,291.5 L444.7,291.2 L445.0,291.0 L445.2,290.8 L445.5,290.6 L445.8,290.4 L446.0,290.3 L446.3,290.1 L446.6,290.0 L446.8,290.0 L447.1,289.9 L447.4,289.9 L447.6,289.8 L447.8,289.8 L448.1,289.9 L448.3,289.9 L448.5,290.0 L448.7,290.1" />
<ellipse cx="452.1" cy="298.4" rx="6.6" ry="4.0" transform="rotate(-61.0 452.1 298.4)" stroke-width="0.8"/>
<ellipse cx="453.9" cy="299.4" rx="6.8" ry="4.1" transform="rotate(-61.0 453.9 299.4)" stroke-width="0.8"/>
<ellipse cx="457.8" cy="301.5" rx="9.0" ry="5.4" transform="rotate(-61.0 457.8 301.5)" />
<line x1="462.17578658221703" y1="293.67592263574545" x2="459.11328658221703" y2="291.97842263574546" />
<line x1="453.44921341778297" y1="309.4190773642546" x2="450.38671341778297" y2="307.7215773642546" />
<path d="M450.4,307.7 L450.1,307.5 L449.8,307.3 L449.5,307.0 L449.3,306.8 L449.1,306.4 L448.9,306.1 L448.7,305.7 L448.6,305.3 L448.5,304.9 L448.4,304.4 L448.3,303.9 L448.3,303.4 L448.3,302.9 L448.4,302.4 L448.4,301.9 L448.5,301.3 L448.6,300.8 L448.8,300.2 L448.9,299.7 L449.1,299.1 L449.4,298.6 L449.6,298.0 L449.9,297.5 L450.2,297.0 L450.5,296.5 L450.8,296.0 L451.2,295.5 L451.5,295.0 L451.9,294.6 L452.3,294.2 L452.7,293.8 L453.1,293.4 L453.5,293.1 L454.0,292.8 L454.4,292.5 L454.8,292.3 L455.2,292.0 L455.7,291.9 L456.1,291.7 L456.5,291.6 L456.9,291.6 L457.3,291.6 L457.7,291.6 L458.1,291.6 L458.4,291.7 L458.8,291.8 L459.1,292.0" />
<line x1="479.43689579742875" y1="306.9022056985915" x2="460.62439579742875" y2="296.4747056985915" />
<line x1="473.81310420257125" y1="317.04779430140854" x2="455.00060420257125" y2="306.62029430140853" />
<ellipse cx="480.6" cy="314.2" rx="9.6" ry="5.8" transform="rotate(-61.0 480.6 314.2)" />
<line x1="485.21667235436485" y1="305.76115081146185" x2="481.27917235436485" y2="303.57865081146184" />
<line x1="475.90832764563515" y1="322.5538491885382" x2="471.97082764563515" y2="320.3713491885382" />
<path d="M472.0,320.4 L471.6,320.2 L471.3,319.9 L471.1,319.6 L470.8,319.3 L470.6,319.0 L470.4,318.6 L470.2,318.2 L470.1,317.8 L469.9,317.3 L469.9,316.8 L469.8,316.3 L469.8,315.8 L469.8,315.3 L469.8,314.7 L469.9,314.1 L470.0,313.6 L470.1,313.0 L470.3,312.4 L470.4,311.8 L470.6,311.2 L470.9,310.6 L471.1,310.0 L471.4,309.5 L471.7,308.9 L472.1,308.4 L472.4,307.8 L472.8,307.3 L473.2,306.8 L473.6,306.4 L474.0,305.9 L474.4,305.5 L474.9,305.1 L475.3,304.7 L475.8,304.4 L476.2,304.1 L476.7,303.9 L477.2,303.7 L477.6,303.5 L478.1,303.3 L478.5,303.2 L478.9,303.2 L479.4,303.1 L479.8,303.1 L480.2,303.2 L480.6,303.3 L480.9,303.4 L481.3,303.6" />
<ellipse cx="481.4" cy="314.6" rx="7.0" ry="4.2" transform="rotate(-61.0 481.4 314.6)" stroke-width="0.9"/>
<ellipse cx="485.8" cy="317.1" rx="5.4" ry="3.2" transform="rotate(-61.0 485.8 317.1)" />
<line x1="488.43047194933024" y1="312.34455358144726" x2="484.05547194933024" y2="309.91955358144725" />
<line x1="483.19452805066976" y1="321.79044641855273" x2="478.81952805066976" y2="319.3654464185527" />
<ellipse cx="486.1" cy="317.2" rx="3.4" ry="2.0" transform="rotate(-61.0 486.1 317.2)" stroke-width="0.8"/>
<ellipse cx="486.4" cy="317.4" rx="1.9" ry="1.1" transform="rotate(-61.0 486.4 317.4)" stroke-width="0.8"/>
<ellipse cx="531.5" cy="238.0" rx="13.3" ry="8.0" transform="rotate(-61.0 531.5 238.0)" />
<ellipse cx="534.1" cy="239.2" rx="9.0" ry="5.4" transform="rotate(-61.0 534.1 239.2)" />
<ellipse cx="534.5" cy="239.5" rx="7.4" ry="4.4" transform="rotate(-61.0 534.5 239.5)" />
<ellipse cx="535.1" cy="239.9" rx="4.8" ry="2.9" transform="rotate(-61.0 535.1 239.9)" />
<ellipse cx="535.3" cy="240.1" rx="3.3" ry="2.0" transform="rotate(-61.0 535.3 240.1)" stroke-width="0.8"/>
<path d="M521.0,246.6 L520.6,246.3 L520.2,246.0 L519.8,245.6 L519.5,245.2 L519.2,244.8 L518.9,244.3 L518.7,243.8 L518.5,243.2 L518.3,242.6 L518.2,242.0 L518.2,241.3 L518.1,240.6 L518.1,239.9 L518.2,239.2 L518.3,238.4 L518.4,237.7 L518.6,236.9 L518.8,236.1 L519.0,235.3 L519.3,234.6 L519.6,233.8 L519.9,233.0 L520.3,232.3 L520.7,231.5 L521.2,230.8 L521.6,230.1 L522.1,229.5 L522.6,228.8 L523.2,228.2 L523.7,227.6 L524.3,227.1 L524.8,226.6 L525.4,226.1 L526.0,225.7 L526.6,225.3 L527.2,224.9 L527.8,224.7 L528.4,224.4 L529.0,224.2 L529.6,224.1 L530.2,224.0 L530.7,224.0 L531.3,224.0 L531.8,224.0 L532.3,224.2 L532.8,224.3 L533.2,224.6" stroke-width="1.0"/>
<path d="M518.3,243.3 L517.9,243.0 L517.6,242.7 L517.2,242.4 L517.0,242.1 L516.7,241.7 L516.5,241.2 L516.3,240.8 L516.1,240.3 L516.0,239.8 L515.9,239.2 L515.8,238.6 L515.8,238.0 L515.8,237.4 L515.8,236.8 L515.9,236.1 L516.0,235.5 L516.1,234.8 L516.3,234.1 L516.5,233.4 L516.8,232.8 L517.0,232.1 L517.3,231.4 L517.7,230.8 L518.0,230.1 L518.4,229.5 L518.8,228.9 L519.2,228.3 L519.7,227.7 L520.2,227.2 L520.6,226.7 L521.1,226.2 L521.6,225.8 L522.1,225.4 L522.7,225.0 L523.2,224.6 L523.7,224.4 L524.2,224.1 L524.8,223.9 L525.3,223.7 L525.8,223.6 L526.3,223.5 L526.8,223.5 L527.2,223.5 L527.7,223.6 L528.1,223.7 L528.6,223.8 L529.0,224.0" stroke-width="0.9"/>
<path d="M514.0,240.7 L513.6,240.4 L513.3,240.2 L513.0,239.8 L512.7,239.5 L512.4,239.1 L512.2,238.7 L512.0,238.2 L511.9,237.7 L511.7,237.2 L511.6,236.7 L511.6,236.1 L511.5,235.5 L511.5,234.9 L511.6,234.3 L511.7,233.6 L511.8,233.0 L511.9,232.3 L512.1,231.7 L512.3,231.0 L512.5,230.3 L512.8,229.7 L513.1,229.0 L513.4,228.4 L513.8,227.8 L514.1,227.1 L514.5,226.5 L515.0,226.0 L515.4,225.4 L515.8,224.9 L516.3,224.4 L516.8,223.9 L517.3,223.5 L517.8,223.1 L518.3,222.7 L518.8,222.4 L519.3,222.1 L519.8,221.8 L520.4,221.6 L520.9,221.5 L521.4,221.4 L521.9,221.3 L522.3,221.3 L522.8,221.3 L523.3,221.3 L523.7,221.4 L524.1,221.6 L524.5,221.8" stroke-width="1.15"/>
<line x1="537.9479679492763" y1="226.36755789504605" x2="533.2336012151038" y2="224.5547916900436" />
<line x1="525.0520320507237" y1="249.63244210495395" x2="521.0163987848962" y2="246.59520830995638" />
<line x1="533.2336012151038" y1="224.5547916900436" x2="524.4859438986605" y2="221.76410716289453" />
<line x1="521.0163987848962" y1="246.59520830995638" x2="514.0140561013395" y2="240.65589283710548" />
<line x1="537.2" y1="241.3" x2="546.3" y2="246.8" />
<ellipse cx="549.0" cy="248.6" rx="3.8" ry="2.3" transform="rotate(-61.0 549.0 248.6)" />
<line x1="550.8422765569361" y1="245.27644511287028" x2="570.0922765569361" y2="255.94644511287026" />
<line x1="547.1577234430639" y1="251.9235548871297" x2="566.4077234430639" y2="262.5935548871297" />
<line x1="550.6022144303695" y1="247.7730704392909" x2="568.9772144303695" y2="257.9580704392909" stroke-width="0.7"/>
<path d="M412.4,159.5 C411.0,158.9 406.6,157.3 404.0,156.2 C401.4,155.1 398.3,153.2 396.5,152.8 C394.7,152.4 393.9,152.8 393.0,153.6 C392.1,154.4 391.5,156.0 391.2,157.5 C390.9,159.0 391.1,161.0 391.2,162.5 C391.3,164.0 391.2,165.2 392.0,166.5 C392.8,167.8 394.6,168.9 396.0,170.2 C397.4,171.5 399.6,173.8 400.3,174.5" />
<path d="M400.3,174.5 C400.5,176.4 401.4,181.5 401.5,186.0 C401.6,190.5 401.2,198.9 401.2,201.5" />
<path d="M401.2,201.5 L394.8,205.5 L400.4,209.2" />
<path d="M406.4,163.8 C406.0,165.0 404.6,168.2 404.2,171.2 C403.8,174.2 403.7,177.9 403.7,181.8 C403.7,185.7 404.2,189.9 404.2,194.5 C404.2,199.1 403.8,206.8 403.7,209.3" />
<path d="M408.3,172.0 C408.2,173.6 408.0,176.6 408.0,181.8 C408.0,187.0 408.5,198.3 408.5,203.0 C408.5,207.7 408.2,208.8 408.2,210.0" stroke-width="0.8"/>
<ellipse cx="419.1" cy="170.7" rx="12.2" ry="7.3" transform="rotate(-61.0 419.1 170.7)" />
<ellipse cx="420.2" cy="172.5" rx="10.2" ry="6.1" transform="rotate(-61.0 420.2 172.5)" stroke-width="0.8"/>
<ellipse cx="420.6" cy="173.6" rx="8.6" ry="5.2" transform="rotate(-61.0 420.6 173.6)" />
<ellipse cx="421.2" cy="175.0" rx="5.6" ry="3.4" transform="rotate(-61.0 421.2 175.0)" />
<ellipse cx="421.4" cy="175.6" rx="3.6" ry="2.2" transform="rotate(-61.0 421.4 175.6)" stroke-width="0.7"/>
<path d="M401.8,193.5 C400.2,194.2 395.0,195.4 392.0,197.5 C389.0,199.6 386.1,202.9 384.0,206.0 C381.9,209.1 380.4,212.7 379.5,216.0 C378.6,219.3 378.5,222.7 378.5,226.0 C378.5,229.3 378.8,233.1 379.5,236.0 C380.2,238.9 381.4,241.6 383.0,243.5 C384.6,245.4 387.0,246.2 389.3,247.5 C391.6,248.8 394.5,250.2 396.8,251.5 C399.1,252.8 402.0,254.4 403.0,255.0" />
<path d="M406.8,209.9 C405.6,211.2 401.3,214.8 399.4,217.4 C397.4,220.1 396.1,223.0 395.1,225.8 C394.1,228.6 393.6,231.1 393.5,234.3 C393.4,237.5 393.8,241.8 394.6,245.0 C395.4,248.2 396.9,251.2 398.5,253.5 C400.1,255.8 403.1,257.7 404.0,258.5" stroke-width="1.2"/>
<path d="M410.0,211.0 C408.9,212.4 405.2,216.7 403.6,219.5 C402.0,222.3 401.1,224.8 400.4,228.0 C399.7,231.2 399.3,235.2 399.4,238.5 C399.5,241.8 400.1,245.2 401.0,248.0 C401.9,250.8 403.3,253.1 405.0,255.0 C406.7,256.9 410.0,258.8 411.0,259.5" />
<path d="M413.1,212.1 C412.2,213.7 409.0,218.2 407.8,221.6 C406.6,224.9 406.1,228.7 405.7,232.2 C405.3,235.7 405.3,239.7 405.7,242.8 C406.1,245.9 406.8,248.6 408.0,251.0 C409.2,253.4 411.2,255.6 413.0,257.0 C414.8,258.4 418.0,259.1 419.0,259.5" />
<path d="M428.0,213.5 C427.5,213.8 426.2,214.2 424.8,215.2 C423.4,216.2 421.1,217.7 419.5,219.5 C417.9,221.3 416.4,223.3 415.2,225.8 C414.0,228.3 412.8,231.5 412.1,234.3 C411.4,237.1 410.9,240.2 411.0,242.8 C411.1,245.4 411.6,248.1 412.5,250.0 C413.4,251.9 414.9,253.5 416.5,254.5 C418.1,255.5 419.9,256.1 422.0,256.0 C424.1,255.9 426.7,255.2 429.0,254.0 C431.3,252.8 434.8,249.8 436.0,249.0" />
<path d="M431.0,214.0 C430.2,214.8 427.7,216.8 426.0,218.5 C424.3,220.2 422.4,221.8 421.0,224.0 C419.6,226.2 418.3,229.2 417.5,232.0 C416.7,234.8 416.0,238.2 416.0,241.0 C416.0,243.8 416.6,247.1 417.5,249.0 C418.4,250.9 420.8,251.9 421.5,252.5" stroke-width="0.7"/>
<path d="M431.5,215.5 C431.8,216.6 432.7,219.6 433.0,222.0 C433.3,224.4 433.7,227.3 433.5,230.0 C433.3,232.7 432.2,236.7 432.0,238.0" stroke-width="0.75"/>
<path d="M432.8,215.9 C433.1,217.0 434.0,220.1 434.3,222.5 C434.6,224.9 434.9,227.8 434.7,230.5 C434.5,233.2 433.3,237.1 433.0,238.4" stroke-width="0.75"/>
<path d="M434.1,216.3 C434.4,217.4 435.3,220.6 435.6,223.0 C435.9,225.4 436.2,228.4 435.9,231.0 C435.6,233.6 434.3,237.5 434.0,238.8" stroke-width="0.75"/>
<path d="M435.4,216.7 C435.6,217.8 436.6,221.0 436.9,223.5 C437.2,226.0 437.4,228.9 437.1,231.5 C436.8,234.1 435.4,237.9 435.0,239.2" stroke-width="0.75"/>
<path d="M436.7,217.1 C436.9,218.2 437.9,221.5 438.2,224.0 C438.5,226.5 438.7,229.4 438.3,232.0 C437.9,234.6 436.4,238.3 436.0,239.6" stroke-width="0.75"/>
<path d="M413.0,244.5 C414.2,245.2 417.5,248.3 420.0,249.0 C422.5,249.7 425.8,249.3 428.0,248.5 C430.2,247.7 432.2,244.8 433.0,244.0" stroke-width="0.7"/>
<path d="M413.8,246.1 C415.0,246.8 418.3,249.6 420.8,250.2 C423.3,250.8 426.6,250.3 428.6,249.4 C430.6,248.5 432.3,245.5 433.0,244.7" stroke-width="0.7"/>
<path d="M414.6,247.7 C415.8,248.3 419.2,251.0 421.6,251.4 C424.0,251.8 427.3,251.3 429.2,250.3 C431.1,249.3 432.4,246.2 433.0,245.4" stroke-width="0.7"/>
<path d="M415.4,249.3 C416.6,249.9 420.0,252.3 422.4,252.6 C424.8,252.9 428.0,252.3 429.8,251.2 C431.6,250.1 432.5,246.9 433.0,246.1" stroke-width="0.7"/>
<path d="M418.0,222.0 C417.4,223.3 415.2,227.3 414.5,230.0 C413.8,232.7 414.1,236.7 414.0,238.0" stroke-width="1.3"/>
<path d="M401.2,255.7 L401.2,275.8" />
<path d="M395.9,257.0 C395.9,260.1 395.4,272.0 395.9,275.8 C396.4,279.6 397.6,278.4 399.1,279.6 C400.6,280.8 403.1,281.8 405.0,282.8 C406.9,283.8 409.8,285.1 410.7,285.6" />
<path d="M410.7,260.0 L410.7,285.0" />
<path d="M423.4,258.9 L423.4,276.0" />
<ellipse cx="416.0" cy="278.5" rx="6.6" ry="4.4" transform="rotate(-61.0 416.0 278.5)" />
<ellipse cx="417.0" cy="279.2" rx="4.6" ry="3.2" transform="rotate(-61.0 417.0 279.2)" stroke-width="0.8"/>
<path d="M410.7,285.6 C411.2,285.8 412.6,286.6 414.0,286.6 C415.4,286.6 417.6,286.4 419.0,285.6 C420.4,284.8 421.8,283.6 422.5,282.0 C423.2,280.4 423.2,277.0 423.4,276.0" />
<path d="M435.2,180.3 L437.9,177.5 L449.5,179.6 L482.2,199.3" />
<path d="M422.4,181.5 L417.9,186.2" />
<path d="M435.2,180.3 L474.7,201.4 L482.2,199.3" />
<path d="M418.2,186.4 L450.8,204.8" stroke-width="0.9"/>
<path d="M482.2,199.3 L486.3,210.2 L486.7,218.4" />
<path d="M474.7,201.4 L478.0,207.0 L477.0,214.0" stroke-width="0.8"/>
<path d="M468.6,204.8 L454.9,217.0" stroke-width="0.9"/>
<path d="M478.0,202.5 L466.0,216.0 L457.0,226.0" stroke-width="0.9"/>
<path d="M430.9,189.2 L453.7,203.1 L448.6,207.9 L427.5,193.3 L430.9,189.2" />
<path d="M433.6,196.3 L444.8,202.8 L447.2,207.9 L436.0,201.8 L433.6,196.3" stroke-width="0.8"/>
<path d="M427.5,193.3 L420.0,210.0" />
<path d="M427.5,193.3 L439.7,212.0 L442.5,218.1" />
<path d="M448.6,207.9 L442.5,218.1" />
<path d="M439.7,212.0 L445.0,213.4" stroke-width="0.8"/>
<path d="M447.2,212.0 L454.7,218.1 L465.0,207.2" />
<path d="M420.0,210.0 L415.9,217.8" />
<path d="M417.0,186.5 L409.5,208.2" />
<path d="M454.0,218.4 L485.5,219.6" />
<path d="M442.5,218.1 L436.0,228.0" stroke-width="0.9"/>
<path d="M454.7,218.1 L440.0,238.0" />
<path d="M457.7,232.9 L469.8,232.9" />
<path d="M461.5,233.2 C462.4,233.0 465.2,231.9 466.8,232.2 C468.4,232.5 469.9,233.3 471.0,234.8 C472.1,236.3 472.8,238.7 473.1,241.2 C473.4,243.7 473.1,247.2 472.6,249.7 C472.1,252.2 471.1,254.2 470.0,256.0 C468.9,257.9 466.4,260.0 465.7,260.8" />
<path d="M463.6,234.8 C463.5,236.0 463.2,239.7 462.8,242.0 C462.4,244.3 462.4,246.4 461.5,248.6 C460.6,250.8 458.8,253.2 457.2,255.0 C455.6,256.8 452.9,258.5 452.0,259.2" stroke-width="0.9"/>
<path d="M465.7,260.8 C465.2,261.1 466.0,260.9 462.5,262.4 C459.0,263.9 447.6,268.2 444.5,269.8 C441.4,271.4 443.5,271.0 444.0,271.9 C444.5,272.8 446.4,274.5 447.7,275.1 C449.0,275.7 448.6,276.1 452.0,275.6 C455.4,275.1 464.4,272.9 467.8,271.9 C471.2,270.9 471.4,270.1 472.1,269.8" />
<path d="M444.5,269.8 L448.0,272.0 L452.0,275.6" stroke-width="0.7"/>
<path d="M462.5,262.4 L465.0,268.0 L467.8,271.9" stroke-width="0.7"/>
<path d="M468.5,266.0 C468.6,267.3 468.2,271.8 469.0,274.0 C469.8,276.2 471.3,278.4 473.0,279.5 C474.7,280.6 477.2,281.1 479.0,280.5 C480.8,279.9 483.0,278.1 484.0,276.0 C485.0,273.9 485.3,270.1 484.8,268.0 C484.3,265.9 481.6,264.2 481.0,263.5" />
<ellipse cx="478.6" cy="272.2" rx="4.2" ry="3.0" transform="rotate(-61.0 478.6 272.2)" />
<ellipse cx="479.2" cy="272.8" rx="2.4" ry="1.6" transform="rotate(-61.0 479.2 272.8)" stroke-width="0.7"/>
<path d="M470.0,233.2 L485.8,221.6 L492.2,223.2 L498.5,235.9 L499.1,245.4 L497.5,248.1 L475.2,264.5" />
<path d="M485.8,221.6 L491.0,236.0 L491.0,245.0 L497.5,248.1" stroke-width="0.8"/>
<path d="M474.2,243.3 L491.0,236.0" stroke-width="0.8"/>
<path d="M452.0,223.2 L456.2,233.8" />
<path d="M435.0,241.2 L461.5,233.2" />
<path d="M440.0,245.0 L452.0,236.0 L460.0,233.5" stroke-width="0.7"/>
<ellipse cx="449.8" cy="255.5" rx="4.0" ry="2.8" transform="rotate(-61.0 449.8 255.5)" />
<path d="M452.0,259.2 L440.0,262.0 L432.0,258.0" stroke-width="0.8"/>
<line x1="422.2" y1="175.4" x2="511" y2="226.5" stroke-dasharray="10 2 2 2" stroke-width="0.9"/>
<line x1="381.7" y1="216.6" x2="445" y2="243.8" stroke-dasharray="3 2" stroke-width="0.7"/>
<path d="M559.2,265.0 C561.0,264.0 566.6,260.9 570.0,259.0 C573.4,257.1 577.2,254.5 579.8,253.5 C582.4,252.5 583.8,252.5 585.8,252.9 C587.8,253.3 590.5,254.6 591.9,255.9 C593.3,257.2 594.1,259.3 594.3,260.7 C594.5,262.1 593.3,263.8 593.1,264.4" />
<path d="M561.0,267.4 C562.8,266.4 568.3,263.3 572.0,261.5 C575.7,259.7 580.7,257.1 583.4,256.5 C586.1,255.9 586.9,256.9 588.3,257.7 C589.7,258.5 591.3,260.7 591.9,261.3" stroke-width="0.8"/>
<line x1="559.2" y1="265" x2="561" y2="267.4" />
<path d="M559.2,265.0 C557.8,266.3 553.5,269.9 550.7,272.8 C547.9,275.7 544.2,279.7 542.3,282.5 C540.4,285.3 539.8,287.0 539.2,289.8 C538.6,292.6 538.5,294.5 538.6,299.5 C538.7,304.5 539.4,313.6 539.7,320.0 C540.0,326.4 540.0,332.9 540.3,338.2 C540.6,343.4 540.6,347.9 541.5,351.5 C542.4,355.1 544.5,357.1 545.7,359.9 C546.9,362.7 548.3,365.0 548.8,368.4 C549.3,371.8 549.2,376.9 548.8,380.5 C548.4,384.1 547.4,387.2 546.3,390.2 C545.2,393.2 543.1,396.1 542.1,398.7 C541.1,401.3 540.4,403.7 540.3,405.9 C540.2,408.1 540.6,410.2 541.5,412.0 C542.4,413.8 544.1,415.7 545.7,416.8 C547.3,417.9 549.4,418.5 551.2,418.6 C553.0,418.7 554.9,418.3 556.6,417.4 C558.3,416.5 559.3,416.1 561.5,413.2 C563.7,410.3 566.7,404.8 569.9,399.9 C573.1,395.0 577.4,389.4 580.8,384.1 C584.2,378.9 588.7,371.3 590.5,368.4 C592.3,365.5 591.5,366.9 591.7,366.6" />
<path d="M561.0,267.4 C559.7,268.7 555.6,272.6 553.2,275.3 C550.8,278.0 548.0,281.1 546.5,283.7 C545.0,286.3 544.6,287.4 544.1,291.0 C543.6,294.6 543.3,300.7 543.5,305.5 C543.7,310.3 544.8,314.6 545.1,320.0 C545.4,325.4 544.9,332.9 545.1,338.2 C545.3,343.4 545.5,347.9 546.3,351.5 C547.1,355.1 548.8,356.5 550.0,359.9 C551.2,363.3 553.0,368.1 553.6,372.0 C554.2,375.9 554.0,379.6 553.6,383.0 C553.2,386.4 552.3,389.4 551.2,392.6 C550.1,395.8 547.9,399.5 546.9,402.3 C545.9,405.1 545.2,407.4 545.1,409.6 C545.0,411.8 545.5,414.1 546.3,415.6 C547.1,417.1 549.4,417.9 550.0,418.4" stroke-width="0.8"/>
<path d="M586.9,361.8 C586.3,361.5 585.1,360.3 583.3,359.9 C581.5,359.5 577.9,359.5 576.0,359.3 C574.1,359.1 573.0,359.6 571.8,358.7 C570.6,357.8 570.1,355.3 568.7,353.9 C567.3,352.5 564.8,351.9 563.3,350.3 C561.8,348.7 560.3,346.8 559.7,344.2 C559.1,341.6 560.1,337.3 559.7,334.5 C559.3,331.7 557.6,329.7 557.2,327.3 C556.8,324.9 557.1,322.6 557.2,320.0 C557.3,317.4 557.7,314.3 558.0,312.0 C558.3,309.7 558.7,307.5 559.2,306.0 C559.7,304.5 560.4,303.6 561.0,303.0 C561.6,302.4 561.9,302.7 562.8,302.5 C563.7,302.3 565.1,302.6 566.5,301.9 C567.9,301.2 570.1,299.9 571.3,298.3 C572.5,296.7 573.3,293.8 573.7,292.2 C574.1,290.6 574.1,289.8 573.7,288.6 C573.3,287.4 571.6,286.0 571.3,285.0 C571.0,284.0 571.3,283.1 571.9,282.5 C572.5,281.9 574.3,280.9 575.0,281.3 C575.7,281.7 575.2,284.6 576.2,285.0 C577.2,285.4 579.4,284.9 581.0,283.7 C582.6,282.5 585.0,278.7 585.8,277.7" />
<path d="M562.8,302.5 C562.7,301.6 561.4,298.9 562.2,297.0 C563.0,295.1 566.2,292.3 567.7,291.0 C569.2,289.7 570.5,289.3 571.0,289.0" stroke-width="0.8"/>
<path d="M583.3,359.9 C584.3,359.0 587.7,355.3 589.3,354.5 C590.9,353.7 591.6,354.4 592.9,355.1 C594.2,355.8 596.5,357.3 597.2,358.7 C597.9,360.1 597.7,362.3 597.2,363.6 C596.7,364.9 595.2,366.0 594.1,366.6 C593.0,367.2 591.1,367.1 590.5,367.2" />
<path d="M588.7,362.4 L590.5,367.2" stroke-width="0.8"/>
<path d="M588.7,362.4 L596.5,358.5" stroke-width="0.8"/>
<ellipse cx="601.6" cy="277.1" rx="6.2" ry="3.9" transform="rotate(-61.0 601.6 277.1)" />
<line x1="604.6058196455273" y1="271.6773578157358" x2="587.6058196455273" y2="263.1773578157358" />
<line x1="598.5941803544728" y1="282.52264218426427" x2="581.5941803544728" y2="274.02264218426427" />
<path d="M581.6,274.0 L581.4,273.9 L581.2,273.7 L581.0,273.5 L580.8,273.3 L580.6,273.1 L580.5,272.9 L580.4,272.6 L580.3,272.3 L580.2,272.0 L580.1,271.7 L580.1,271.4 L580.1,271.0 L580.1,270.7 L580.1,270.3 L580.1,269.9 L580.2,269.5 L580.2,269.2 L580.3,268.8 L580.5,268.4 L580.6,268.0 L580.7,267.6 L580.9,267.3 L581.1,266.9 L581.3,266.5 L581.5,266.2 L581.7,265.8 L582.0,265.5 L582.2,265.2 L582.5,264.9 L582.8,264.6 L583.1,264.3 L583.3,264.1 L583.6,263.9 L583.9,263.7 L584.2,263.5 L584.5,263.3 L584.8,263.2 L585.1,263.1 L585.4,263.0 L585.7,262.9 L586.0,262.9 L586.3,262.9 L586.6,262.9 L586.9,262.9 L587.1,263.0 L587.4,263.1 L587.6,263.2" />
<ellipse cx="553.8" cy="291.6" rx="6.6" ry="3.8" transform="rotate(-61.0 553.8 291.6)" />
<ellipse cx="554.4" cy="292.3" rx="5.0" ry="2.8" transform="rotate(-61.0 554.4 292.3)" stroke-width="0.7"/>
<ellipse cx="579.0" cy="370.8" rx="5.8" ry="3.6" transform="rotate(-61.0 579.0 370.8)" />
<ellipse cx="579.5" cy="371.3" rx="3.8" ry="2.4" transform="rotate(-61.0 579.5 371.3)" stroke-width="0.8"/>
<ellipse cx="555.4" cy="405.9" rx="6.4" ry="4.2" transform="rotate(-61.0 555.4 405.9)" />
<ellipse cx="555.9" cy="406.5" rx="5.0" ry="3.2" transform="rotate(-61.0 555.9 406.5)" stroke-width="0.7"/>
<line x1="543.3" y1="351.5" x2="568.7" y2="365.4" stroke-dasharray="3 2" stroke-width="0.8"/>
<line x1="530" y1="343" x2="539.1" y2="349" />
<line x1="530" y1="390.2" x2="541.5" y2="396.9" />
<path d="M550.7,245.0 C550.2,245.2 548.1,245.6 547.5,246.5 C546.9,247.4 546.8,249.5 547.0,250.5 C547.2,251.5 548.2,252.2 548.5,252.5" />
<line x1="550.7" y1="245" x2="575" y2="256.5" />
<line x1="548.5" y1="252.5" x2="564" y2="260.7" />
<line x1="549.5" y1="248" x2="561.6" y2="254.5" stroke-width="0.7"/>
<path d="M413.2,429.1 L414.9,428.5 L417.7,430.8 L419.4,429.6 L421.7,432.5 L424.5,433.0 L426.8,435.9 L427.9,438.2 L425.6,441.0 L429.0,443.8 L433.6,444.4 L435.8,446.7 L434.7,448.4" />
<path d="M413.2,429.1 L412.6,431.4 L415.4,435.9 L414.9,438.2 L418.8,441.6" />
<path d="M406.3,451.8 L418.8,441.6 L420.5,443.8 L408.0,454.0 L406.3,451.8" />
<path d="M416.5,432.5 L418.5,435.0 L421.0,434.5" stroke-width="0.8"/>
<path d="M406.3,451.8 C406.1,452.5 405.2,454.4 404.8,456.0 C404.4,457.6 404.2,459.2 403.9,461.4 C403.6,463.6 402.9,466.6 402.9,469.2 C402.9,471.8 403.1,474.6 403.9,477.1 C404.7,479.6 406.6,481.9 407.9,484.0 C409.2,486.1 411.0,487.9 411.8,489.9 C412.6,491.9 412.3,494.0 412.8,495.8 C413.3,497.6 413.7,499.1 414.7,500.7 C415.7,502.3 417.0,504.5 418.7,505.6 C420.4,506.8 422.3,506.9 424.6,507.6 C426.9,508.3 430.3,509.6 432.4,509.6 C434.5,509.6 435.6,508.3 437.4,507.6 C439.2,506.9 441.3,506.2 443.3,505.6 C445.3,505.0 447.5,504.0 449.2,503.7 C450.9,503.4 452.3,504.2 453.6,503.7 C454.9,503.2 456.3,502.0 457.0,500.7 C457.7,499.4 458.2,497.3 458.0,495.8 C457.8,494.3 457.1,493.0 456.0,491.9 C454.9,490.8 452.3,489.7 451.1,489.4 C449.9,489.1 449.1,489.8 448.7,489.9" />
<ellipse cx="452.1" cy="498.3" rx="4.2" ry="2.6" transform="rotate(-61.0 452.1 498.3)" />
<ellipse cx="452.4" cy="498.6" rx="3.0" ry="1.8" transform="rotate(-61.0 452.4 498.6)" stroke-width="0.7"/>
<path d="M422.6,446.1 C423.8,446.4 427.5,446.9 429.5,448.1 C431.5,449.3 432.8,451.4 434.4,453.5 C436.0,455.6 437.8,458.1 439.3,460.4 C440.8,462.7 442.2,464.9 443.3,467.3 C444.4,469.8 445.4,472.5 446.2,475.1 C447.0,477.7 447.8,480.5 448.2,483.0 C448.6,485.5 448.7,487.8 448.7,489.9 C448.7,492.0 448.6,493.8 448.2,495.8 C447.8,497.8 447.7,499.9 446.2,501.7 C444.7,503.5 442.1,505.5 439.3,506.6 C436.5,507.8 431.9,508.6 429.5,508.6 C427.1,508.6 425.9,507.8 424.6,506.6 C423.3,505.5 422.3,503.7 421.6,501.7 C420.9,499.7 420.9,496.8 420.6,494.8 C420.3,492.8 420.3,491.7 419.7,489.9 C419.1,488.1 418.2,485.6 417.2,484.0 C416.2,482.4 415.1,481.6 413.8,480.1 C412.5,478.6 409.6,477.6 409.3,475.1 C409.0,472.6 411.1,468.2 411.8,465.3 C412.6,462.4 412.8,460.0 413.8,457.4 C414.8,454.8 416.2,451.5 417.7,449.6 C419.2,447.7 421.8,446.7 422.6,446.1" />
<path d="M420.5,447.2 C419.8,448.0 417.3,450.2 416.0,452.0 C414.7,453.8 413.5,455.7 412.5,458.0 C411.5,460.3 410.9,463.2 410.2,466.0 C409.4,468.8 408.4,473.2 408.0,474.6" stroke-width="0.8"/>
<path d="M409.0,455.0 C408.6,456.2 407.0,459.5 406.5,462.0 C406.0,464.5 405.9,467.3 406.0,470.0 C406.1,472.7 406.6,475.7 407.3,478.0 C408.1,480.3 410.0,483.0 410.5,484.0" stroke-width="0.7"/>
<path d="M411.3,476.1 L434.4,454.0" />
<path d="M412.6,477.4 L435.4,455.4" stroke-width="0.7"/>
<path d="M422.6,494.8 L444.2,473.7" />
<path d="M423.8,496.2 L445.2,475.1" stroke-width="0.7"/>
<path d="M409.3,475.1 L411.3,476.1" />
<path d="M420.6,494.8 L422.6,494.8" />
<path d="M490.0,447.8 C490.8,447.2 493.1,444.9 494.9,444.1 C496.7,443.3 499.2,442.7 501.0,442.9 C502.8,443.1 504.7,444.1 505.9,445.3 C507.1,446.5 508.0,448.2 508.3,450.2 C508.6,452.2 508.3,455.3 507.7,457.5 C507.1,459.7 506.0,461.9 504.7,463.6 C503.4,465.3 501.1,466.3 499.8,467.9 C498.5,469.5 497.4,471.5 496.8,473.4 C496.2,475.3 496.0,477.8 496.1,479.5 C496.2,481.2 497.0,483.1 497.4,483.7 C497.8,484.3 498.0,483.3 498.6,483.1 C499.2,482.9 500.3,482.2 501.0,482.5 C501.7,482.8 502.8,484.1 502.9,485.0 C503.0,485.9 501.7,487.3 501.6,488.0 C501.5,488.7 501.5,488.2 502.2,489.2 C502.9,490.2 504.8,492.1 505.9,494.1 C507.0,496.1 508.0,498.8 509.0,501.4 C510.0,504.0 511.5,508.2 512.0,510.0 C512.5,511.8 511.6,511.9 512.0,512.4 C512.4,512.9 513.8,512.4 514.4,513.0 C515.0,513.6 515.7,514.9 515.7,516.0 C515.7,517.1 514.5,518.3 514.4,519.7 C514.3,521.1 514.4,523.5 515.0,524.6 C515.6,525.7 516.8,526.0 518.1,526.4 C519.4,526.8 521.6,526.5 523.0,527.0 C524.4,527.5 525.7,528.3 526.6,529.5 C527.5,530.7 528.3,532.7 528.5,534.3 C528.7,535.9 528.6,537.8 527.9,539.2 C527.2,540.6 525.6,542.1 524.2,542.9 C522.8,543.7 522.5,543.7 519.3,544.1 C516.0,544.5 509.2,544.8 504.7,545.3 C500.2,545.8 495.4,546.9 492.5,547.1 C489.6,547.3 489.0,547.2 487.6,546.5 C486.2,545.8 485.2,544.7 484.0,542.9 C482.8,541.1 481.5,538.5 480.3,535.6 C479.1,532.8 478.0,529.1 476.6,525.8 C475.2,522.5 473.2,518.4 471.8,516.0 C470.4,513.6 468.9,512.8 468.1,511.2 C467.3,509.6 466.7,508.3 466.9,506.3 C467.1,504.3 468.1,501.9 469.3,499.0 C470.5,496.1 472.8,492.1 474.2,489.2 C475.6,486.3 476.7,484.8 477.9,481.9 C479.1,479.0 480.3,475.8 481.5,472.1 C482.7,468.5 484.2,463.2 485.2,460.0 C486.2,456.8 486.8,454.6 487.6,452.6 C488.4,450.6 489.6,448.6 490.0,447.8" />
<path d="M493.7,449.0 C492.8,450.4 489.9,453.2 488.2,457.5 C486.5,461.8 485.1,469.3 483.3,474.6 C481.5,479.9 479.1,483.9 477.2,489.2 C475.3,494.5 472.3,502.2 471.8,506.3 C471.3,510.4 473.0,510.7 474.2,513.6 C475.4,516.6 477.6,520.8 479.0,524.0 C480.4,527.2 481.3,530.2 482.5,533.0 C483.7,535.8 485.4,539.7 486.0,541.0" stroke-width="0.8"/>
<path d="M491.5,448.5 C490.6,450.1 487.8,453.8 486.0,458.0 C484.2,462.2 482.8,469.0 481.0,474.0 C479.2,479.0 476.9,483.2 475.0,488.0 C473.1,492.8 470.4,500.5 469.5,503.0" stroke-width="0.6"/>
<ellipse cx="498.6" cy="457.5" rx="6.3" ry="3.8" transform="rotate(-61.0 498.6 457.5)" />
<ellipse cx="499.1" cy="458.2" rx="4.8" ry="2.7" transform="rotate(-61.0 499.1 458.2)" stroke-width="0.7"/>
<ellipse cx="495.5" cy="514.2" rx="7.4" ry="4.6" transform="rotate(-61.0 495.5 514.2)" />
<ellipse cx="496.0" cy="515.0" rx="5.6" ry="3.4" transform="rotate(-61.0 496.0 515.0)" stroke-width="0.7"/>
<ellipse cx="514.4" cy="536.8" rx="2.4" ry="1.6" transform="rotate(-61.0 514.4 536.8)" />
<ellipse cx="522.4" cy="535.6" rx="4.0" ry="2.6" transform="rotate(-61.0 522.4 535.6)" />
<path d="M478.0,524.0 L481.0,522.0 L482.5,527.0" stroke-width="0.8"/>
<path d="M442.4,432.5 L456.4,440.7" stroke-width="1.2"/>
<path d="M443.0,431.6 L450.0,434.5" stroke-width="0.8"/>
<ellipse cx="458.4" cy="434.6" rx="3.0" ry="2.0" transform="rotate(-61.0 458.4 434.6)" />
<path d="M455.0,438.6 L460.0,443.0 L464.0,447.0 L468.0,451.0 L470.0,453.6" stroke-width="3.2"/>
<path d="M459.1,456.3 C459.7,456.6 461.5,458.6 462.5,458.4 C463.5,458.2 464.8,455.6 465.2,455.0" />
<path d="M459.1,456.3 C459.0,456.8 458.4,458.5 458.6,459.5 C458.8,460.5 458.3,460.6 460.5,462.1 C462.7,463.6 469.3,467.0 472.0,468.6 C474.7,470.2 475.8,471.8 476.8,472.0 C477.8,472.2 477.6,471.9 477.8,469.9 C478.0,467.8 478.5,461.8 478.2,459.7 C477.9,457.6 477.1,458.0 476.1,457.0 C475.1,456.0 472.7,454.2 472.0,453.6" />
<path d="M468.0,460.4 L472.0,465.8 L472.0,454.0" stroke-width="0.8"/>
<path d="M470.0,445.4 L476.1,450.2 L474.8,452.9 L468.5,448.0" />
<path d="M464.0,440.0 L470.0,445.4" stroke-width="0.8"/>
<path d="M450.8,113.2 C451.0,112.4 451.2,109.5 452.0,108.3 C452.8,107.1 454.3,106.4 455.7,105.9 C457.1,105.4 459.2,104.9 460.5,105.3 C461.8,105.7 462.9,107.0 463.5,108.3 C464.1,109.6 464.2,111.8 464.1,113.2 C464.0,114.7 463.2,116.4 463.0,117.0" />
<path d="M449.0,112.5 L463.5,116.5 L461.5,122.3 L448.3,117.2 L449.0,112.5" />
<line x1="449.0" y1="112.5" x2="448.3" y2="117.2" stroke-width="0.7"/>
<line x1="450.8" y1="113.0" x2="449.9" y2="117.8" stroke-width="0.7"/>
<line x1="452.6" y1="113.5" x2="451.6" y2="118.5" stroke-width="0.7"/>
<line x1="454.4" y1="114.0" x2="453.2" y2="119.1" stroke-width="0.7"/>
<line x1="456.2" y1="114.5" x2="454.9" y2="119.8" stroke-width="0.7"/>
<line x1="458.1" y1="115.0" x2="456.6" y2="120.4" stroke-width="0.7"/>
<line x1="459.9" y1="115.5" x2="458.2" y2="121.0" stroke-width="0.7"/>
<line x1="461.7" y1="116.0" x2="459.9" y2="121.7" stroke-width="0.7"/>
<line x1="463.5" y1="116.5" x2="461.5" y2="122.3" stroke-width="0.7"/>
<path d="M433.9,153.5 C433.7,153.1 432.9,151.8 432.8,151.0 C432.7,150.2 432.9,149.1 433.4,148.5 C433.8,147.9 434.8,147.6 435.5,147.6 C436.2,147.6 437.1,148.1 437.5,148.6 C437.9,149.1 438.1,150.2 438.2,150.5" />
<path d="M433.6,148.0 L436.0,141.0 L438.8,136.5" />
<path d="M438.0,150.3 L441.5,143.5 L445.5,138.5" />
<line x1="434.2" y1="146.5" x2="439.0" y2="148.3" stroke-width="0.8"/>
<line x1="435.1" y1="144.6" x2="440.2" y2="146.4" stroke-width="0.8"/>
<line x1="436.0" y1="142.7" x2="441.4" y2="144.5" stroke-width="0.8"/>
<line x1="436.9" y1="140.8" x2="442.6" y2="142.6" stroke-width="0.8"/>
<line x1="437.8" y1="138.9" x2="443.8" y2="140.7" stroke-width="0.8"/>
<line x1="438.7" y1="137.0" x2="445.0" y2="138.8" stroke-width="0.8"/>
<path d="M438.8,136.5 L440.3,130.2 L444.2,128.2 L451.2,131.5 L451.5,135.5 L445.5,138.5 L438.8,136.5" />
<path d="M444.2,128.2 L443.5,134.0 L445.5,138.5" stroke-width="0.7"/>
<path d="M446.3,129.3 L448.0,124.5 L450.5,121.8 L453.5,122.6 L454.2,125.3 L451.3,131.4" />
<path d="M448.0,124.5 C448.5,124.3 450.0,123.4 451.0,123.5 C452.0,123.6 453.7,125.0 454.2,125.3" stroke-width="0.7"/>
<path d="M94.8,174.5 C98.0,174.2 107.9,173.2 114.2,172.7 C120.5,172.2 128.8,172.1 132.4,171.5 C136.0,170.9 134.6,170.2 136.0,169.0 C137.4,167.8 138.8,166.0 140.8,164.2 C142.8,162.4 145.7,160.0 148.1,158.2 C150.5,156.4 153.0,154.8 155.4,153.3 C157.8,151.8 160.2,150.2 162.6,149.1 C165.0,148.0 167.4,146.7 170.0,146.7 C172.6,146.7 174.5,149.1 177.9,149.3 C181.3,149.5 187.1,148.8 190.7,148.0 C194.3,147.2 197.5,145.8 199.7,144.8 C201.8,143.8 202.1,143.4 203.6,142.2 C205.1,141.0 207.0,138.7 208.7,137.7 C210.4,136.7 212.2,136.3 213.9,136.4 C215.6,136.5 217.1,137.7 219.0,138.4 C220.9,139.2 223.0,139.7 225.4,140.9 C227.8,142.1 230.6,143.7 233.2,145.4 C235.8,147.1 239.2,149.6 240.9,151.2 C242.6,152.8 242.9,153.1 243.4,155.1 C243.9,157.1 244.5,160.5 244.1,163.4 C243.7,166.3 242.1,169.6 240.9,172.4 C239.7,175.2 238.0,177.8 237.0,180.2 C236.0,182.6 235.7,184.9 235.1,186.6 C234.5,188.3 233.5,189.8 233.2,190.4" stroke-width="0.9" stroke-dasharray="6 1.8 1.5 1.8" stroke-linecap="butt"/>
<path d="M133.0,171.5 C133.2,170.6 133.7,167.8 134.5,166.0 C135.3,164.2 136.6,162.3 138.0,161.0 C139.4,159.7 141.3,158.7 143.0,158.2 C144.7,157.7 147.2,158.2 148.1,158.2" stroke-width="0.9"/>
<path d="M94.8,186.0 C98.6,184.8 110.7,180.3 117.8,178.7 C124.9,177.1 132.8,177.5 137.2,176.3 C141.6,175.1 142.3,173.3 144.5,171.5 C146.7,169.7 148.3,167.6 150.5,165.4 C152.7,163.2 155.4,160.4 157.8,158.2 C160.2,156.0 163.0,153.4 165.0,152.1 C167.0,150.8 167.8,150.1 170.0,150.3 C172.2,150.5 174.5,152.0 177.9,153.1 C181.3,154.2 186.8,156.3 190.7,157.0 C194.5,157.7 197.8,157.2 201.0,157.0 C204.2,156.8 206.5,156.6 210.0,155.7 C213.5,154.8 219.2,152.0 222.0,151.5 C224.8,151.0 225.9,152.3 226.7,152.5" stroke-width="0.9"/>
<path d="M117.8,179.9 C121.2,179.6 133.6,179.1 138.4,178.1 C143.2,177.1 144.1,175.8 146.9,173.9 C149.7,172.0 152.8,169.0 155.4,166.6 C158.0,164.2 160.2,161.0 162.6,159.4 C165.0,157.8 168.8,157.3 170.0,156.9" stroke-width="0.9" stroke-dasharray="9 1.8" stroke-linecap="butt"/>
<path d="M94.8,190.6 C99.0,189.9 111.1,187.9 120.0,186.5 C128.9,185.1 143.4,182.8 148.1,182.1" stroke-width="0.9"/>
<path d="M94.8,194.2 C99.0,193.4 111.5,191.1 120.0,189.5 C128.5,187.9 141.4,185.3 145.7,184.5" stroke-width="0.9"/>
<line x1="97.0" y1="190.6" x2="98.5" y2="193.8" stroke-width="0.5"/>
<line x1="101.0" y1="189.8" x2="102.5" y2="193.0" stroke-width="0.5"/>
<line x1="105.0" y1="189.0" x2="106.5" y2="192.2" stroke-width="0.5"/>
<line x1="109.0" y1="188.2" x2="110.5" y2="191.4" stroke-width="0.5"/>
<line x1="113.0" y1="187.4" x2="114.5" y2="190.6" stroke-width="0.5"/>
<line x1="117.0" y1="186.6" x2="118.5" y2="189.8" stroke-width="0.5"/>
<line x1="121.0" y1="185.8" x2="122.5" y2="189.0" stroke-width="0.5"/>
<line x1="125.0" y1="185.0" x2="126.5" y2="188.2" stroke-width="0.5"/>
<line x1="129.0" y1="184.2" x2="130.5" y2="187.4" stroke-width="0.5"/>
<line x1="133.0" y1="183.4" x2="134.5" y2="186.6" stroke-width="0.5"/>
<line x1="137.0" y1="182.6" x2="138.5" y2="185.8" stroke-width="0.5"/>
<line x1="141.0" y1="181.8" x2="142.5" y2="185.0" stroke-width="0.5"/>
<ellipse cx="174.2" cy="173.1" rx="13.5" ry="9.5" transform="rotate(-61.0 174.2 173.1)" />
<ellipse cx="175.0" cy="174.0" rx="11.6" ry="8.0" transform="rotate(-61.0 175.0 174.0)" stroke-width="0.9" stroke-dasharray="9 1.8" stroke-linecap="butt"/>
<path d="M226.7,152.5 C226.5,154.1 225.6,158.8 225.4,162.1 C225.2,165.4 225.0,169.2 225.4,172.4 C225.8,175.6 227.1,178.6 228.0,181.4 C228.9,184.2 230.2,187.9 230.6,189.2" stroke-width="0.9" stroke-dasharray="9 1.8" stroke-linecap="butt"/>
<ellipse cx="235.5" cy="165.0" rx="9.6" ry="5.9" transform="rotate(-61.0 235.5 165.0)" />
<ellipse cx="235.3" cy="165.6" rx="7.4" ry="4.3" transform="rotate(-61.0 235.3 165.6)" stroke-width="0.8"/>
<path d="M226.7,152.5 C227.6,152.6 229.8,153.1 231.9,153.1 C234.1,153.1 237.7,152.2 239.6,152.5 C241.5,152.8 242.8,154.7 243.4,155.1" stroke-width="0.9"/>
<path d="M230.6,189.2 C230.8,190.9 231.7,195.1 231.9,199.4 C232.1,203.7 231.9,209.8 231.9,215.0 C231.9,220.2 231.5,225.9 231.9,230.7 C232.3,235.5 232.9,239.7 234.4,243.6 C235.9,247.5 239.8,252.2 240.9,253.9" stroke-width="0.9" stroke-dasharray="9 1.8" stroke-linecap="butt"/>
<path d="M233.2,190.4 C233.3,191.9 233.8,195.3 233.8,199.4 C233.8,203.5 233.2,209.6 233.2,215.0 C233.1,220.4 233.0,227.2 233.5,232.0 C234.0,236.8 234.6,240.8 236.0,244.0 C237.4,247.2 241.0,250.2 242.0,251.5" stroke-width="0.9" stroke-dasharray="9 1.8" stroke-linecap="butt"/>
<path d="M229.3,205.0 C229.3,207.6 229.5,215.4 229.3,220.4 C229.1,225.4 228.9,230.1 228.0,235.0 C227.1,239.9 224.7,247.5 224.0,250.0" stroke-width="0.9" stroke-dasharray="9 1.8" stroke-linecap="butt"/>
<path d="M229.3,256.4 C230.6,256.0 234.8,253.5 237.0,253.9 C239.2,254.3 240.7,256.4 242.2,259.0 C243.7,261.6 245.6,265.9 246.0,269.3 C246.4,272.7 245.8,276.6 244.7,279.6 C243.6,282.6 241.5,285.6 239.6,287.3 C237.7,289.0 235.1,289.9 233.2,289.9 C231.3,289.9 229.2,288.9 228.0,287.3 C226.8,285.7 226.2,283.2 226.0,280.0 C225.8,276.8 226.4,271.9 227.0,268.0 C227.6,264.1 228.9,258.3 229.3,256.4" stroke-width="0.9" stroke-dasharray="9 1.8" stroke-linecap="butt"/>
<ellipse cx="235.7" cy="278.3" rx="7.0" ry="4.6" transform="rotate(-61.0 235.7 278.3)" />
<ellipse cx="236.2" cy="279.0" rx="5.4" ry="3.4" transform="rotate(-61.0 236.2 279.0)" stroke-width="0.6"/>
<path d="M206.2,163.4 L216.4,158.9 L225.4,150.6 L219.0,164.7 L206.2,163.4" stroke-width="0.9" stroke-dasharray="9 1.8" stroke-linecap="butt"/>
<path d="M205.0,157.0 L222.0,151.0 L212.0,160.0" stroke-width="0.9"/>
<path d="M192.0,172.4 C193.1,172.0 195.8,170.3 198.4,169.9 C201.0,169.5 204.4,169.5 207.4,169.9 C210.4,170.3 214.6,171.4 216.4,172.4 C218.2,173.4 217.7,175.4 218.0,176.0" stroke-width="0.9" stroke-dasharray="9 1.8" stroke-linecap="butt"/>
<path d="M192.0,172.4 C192.2,173.9 192.7,178.8 193.3,181.4 C194.0,184.0 194.4,187.7 195.9,187.9 C197.4,188.1 200.0,184.4 202.3,182.7 C204.7,181.0 207.7,179.0 210.0,177.6 C212.3,176.2 215.3,174.9 216.4,174.4" stroke-width="0.9"/>
<ellipse cx="195.3" cy="194.2" rx="3.5" ry="4.6" transform="rotate(20 195.3 194.2)" />
<ellipse cx="126.3" cy="217.2" rx="3.6" ry="4.8" transform="rotate(20 126.3 217.2)" />
<ellipse cx="216.1" cy="246.5" rx="3.4" ry="5.0" transform="rotate(20 216.1 246.5)" />
<ellipse cx="188.6" cy="332.1" rx="4.1" ry="5.4" transform="rotate(20 188.6 332.1)" />
<ellipse cx="144.3" cy="324.3" rx="5.5" ry="7.4" transform="rotate(20 144.3 324.3)" />
<ellipse cx="144.8" cy="324.8" rx="4.0" ry="5.8" transform="rotate(20 144.8 324.8)" stroke-width="0.6"/>
<path d="M133.0,171.5 C133.5,170.6 135.5,166.9 136.0,166.0" stroke-width="0.9"/>
<path d="M130.6,187.5 L109.0,219.3" stroke-width="0.9"/>
<path d="M146.5,186.3 L128.3,212.4" stroke-width="0.9"/>
<path d="M125.5,188.5 L105.0,218.0" stroke-width="0.9" stroke-dasharray="9 1.8" stroke-linecap="butt"/>
<path d="M118.1,204.5 L129.4,211.3" stroke-width="0.9"/>
<path d="M112.4,211.3 L122.6,218.1" stroke-width="0.9"/>
<path d="M136.3,207.9 L145.3,214.7" stroke-width="0.9"/>
<path d="M152.1,185.2 C153.1,185.3 156.5,185.0 157.8,185.8 C159.1,186.6 159.9,188.4 160.1,189.8 C160.3,191.2 161.1,190.2 159.0,194.3 C156.9,198.5 150.2,210.9 147.6,214.7 C144.9,218.5 145.6,216.5 143.1,217.0 C140.6,217.5 134.1,217.5 132.3,217.6" stroke-width="0.9" stroke-dasharray="9 1.8" stroke-linecap="butt"/>
<path d="M96.0,196.0 L102.8,219.3" stroke-width="0.9" stroke-dasharray="9 1.8" stroke-linecap="butt"/>
<path d="M94.3,227.2 L121.5,222.7" stroke-width="0.9" stroke-dasharray="9 1.8" stroke-linecap="butt"/>
<path d="M141.2,220.5 L142.4,259.8" stroke-width="0.9" stroke-dasharray="9 1.8" stroke-linecap="butt"/>
<path d="M146.1,220.5 L146.1,259.8" stroke-width="0.9" stroke-dasharray="9 1.8" stroke-linecap="butt"/>
<path d="M148.6,221.7 L148.6,253.7" stroke-width="0.9"/>
<path d="M148.6,251.2 L165.8,230.3" stroke-width="0.9"/>
<path d="M160.0,196.0 C160.5,196.7 162.2,198.3 163.0,200.0 C163.8,201.7 165.2,204.0 165.0,206.0 C164.8,208.0 163.7,210.0 162.0,212.0 C160.3,214.0 157.0,216.5 155.0,218.0 C153.0,219.5 150.8,220.5 150.0,221.0" stroke-width="0.9" stroke-dasharray="9 1.8" stroke-linecap="butt"/>
<path d="M127.7,219.3 L128.9,253.7 L144.8,260.6 L146.1,259.8" stroke-width="0.9" stroke-dasharray="9 1.8" stroke-linecap="butt"/>
<path d="M129.6,252.6 L144.5,259.2" stroke-width="1.4"/>
<path d="M128.0,220.0 L146.9,218.4" stroke-width="0.9"/>
<path d="M117.8,225.6 C118.4,227.2 120.9,231.7 121.5,235.3 C122.1,238.9 121.9,243.4 121.5,247.4 C121.1,251.4 120.4,255.7 119.0,259.5 C117.6,263.3 115.2,267.6 113.0,270.4 C110.8,273.2 108.3,276.8 105.7,276.4 C103.1,276.0 98.7,269.3 97.3,267.9" stroke-width="0.9" stroke-dasharray="9 1.8" stroke-linecap="butt"/>
<path d="M125.1,229.2 C125.5,231.2 127.3,237.3 127.5,241.3 C127.7,245.3 127.3,249.4 126.3,253.4 C125.3,257.4 123.5,261.3 121.5,265.5 C119.5,269.7 115.4,276.6 114.2,278.8" stroke-width="0.9" stroke-dasharray="9 1.8" stroke-linecap="butt"/>
<path d="M94.8,225.0 L101.0,222.0 L117.8,225.6" stroke-width="0.9" stroke-dasharray="9 1.8" stroke-linecap="butt"/>
<path d="M158.1,205.9 C160.8,207.4 170.7,212.1 174.5,215.0 C178.3,217.9 178.8,220.1 180.8,223.1 C182.8,226.1 185.4,231.4 186.3,233.1" stroke-width="0.9"/>
<path d="M155.9,210.0 C158.2,211.4 166.6,215.7 170.0,218.6 C173.4,221.5 174.6,224.4 176.3,227.6 C178.0,230.8 179.4,235.9 180.0,237.6" stroke-width="0.9"/>
<path d="M169.0,199.5 C169.8,199.9 171.9,199.9 173.6,202.2 C175.3,204.5 176.7,208.1 179.0,213.1 C181.3,218.1 185.8,229.0 187.2,232.2" stroke-width="0.9" stroke-dasharray="9 1.8" stroke-linecap="butt"/>
<path d="M164.5,195.0 L167.2,193.2 L169.5,195.0 L169.5,199.5" stroke-width="0.9"/>
<path d="M164.5,195.0 L158.1,205.9" stroke-width="0.9"/>
<path d="M149.1,220.4 C151.7,220.6 161.0,220.7 164.5,221.3 C168.0,221.9 168.0,222.6 170.0,224.0 C172.0,225.4 174.6,227.1 176.3,229.5 C178.0,231.9 179.7,237.0 180.4,238.5" stroke-width="0.9"/>
<path d="M164.5,221.3 L164.5,232.2" stroke-width="0.9" stroke-dasharray="9 1.8" stroke-linecap="butt"/>
<path d="M166.3,232.2 L180.0,238.5" stroke-width="0.9"/>
<path d="M151.8,248.5 L162.7,235.8" stroke-width="0.9"/>
<path d="M167.2,248.5 L186.3,236.7" stroke-width="0.9"/>
<path d="M189.9,198.6 L181.7,206.8" stroke-width="0.9"/>
<path d="M191.0,201.0 L183.0,209.0" stroke-width="0.9"/>
<path d="M182.6,209.5 C183.7,211.6 186.1,219.2 189.0,222.2 C191.9,225.2 198.2,226.7 200.0,227.6" stroke-width="0.9" stroke-dasharray="9 1.8" stroke-linecap="butt"/>
<path d="M194.4,203.1 L200.0,215.0" stroke-width="0.9" stroke-dasharray="9 1.8" stroke-linecap="butt"/>
<path d="M181.7,185.3 C182.6,184.4 185.5,179.9 186.9,180.1 C188.3,180.3 189.5,184.6 190.1,186.6 C190.7,188.6 191.4,189.8 190.7,192.0 C190.0,194.2 187.6,198.0 186.0,200.0 C184.4,202.0 182.2,204.1 181.0,204.0 C179.8,203.9 179.0,202.5 179.1,199.4 C179.2,196.3 181.3,187.7 181.7,185.3" stroke-width="0.9" stroke-dasharray="9 1.8" stroke-linecap="butt"/>
<path d="M180.4,188.0 L189.4,191.7" stroke-width="0.9"/>
<path d="M179.4,195.0 L188.4,199.5" stroke-width="0.9"/>
<path d="M199.1,200.7 C199.3,202.0 199.7,206.9 200.4,208.4 C201.2,209.9 202.2,211.2 203.6,209.7 C205.0,208.2 206.8,202.8 208.7,199.4 C210.6,196.0 213.5,192.3 215.2,189.1 C216.9,185.9 218.4,181.6 219.0,180.1" stroke-width="0.9"/>
<path d="M198.4,189.1 C199.9,187.8 204.4,183.3 207.4,181.4 C210.4,179.5 214.9,178.2 216.4,177.6" stroke-width="0.9"/>
<path d="M200.0,193.0 C201.5,191.8 205.8,188.0 209.0,186.0 C212.2,184.0 217.3,181.8 219.0,181.0" stroke-width="0.9"/>
<path d="M216.4,190.4 C217.3,190.1 219.8,188.7 222.0,188.5 C224.2,188.3 227.7,188.8 229.3,189.1 C231.0,189.4 231.5,190.2 231.9,190.4" stroke-width="0.9"/>
<path d="M203.6,211.0 C203.6,212.7 202.8,218.3 203.6,221.3 C204.4,224.3 206.1,226.0 208.7,229.0 C211.3,232.0 216.8,237.1 219.0,239.3 C221.2,241.5 221.2,241.6 221.6,242.0" stroke-width="0.9" stroke-dasharray="9 1.8" stroke-linecap="butt"/>
<path d="M188.1,222.6 L194.6,234.2 L207.4,232.9 L211.3,234.2" stroke-width="0.9"/>
<path d="M226.5,199.0 L226.5,228.0" stroke-width="0.9" stroke-dasharray="9 1.8" stroke-linecap="butt"/>
<path d="M96.0,268.0 L105.7,284.9" stroke-width="0.9" stroke-dasharray="9 1.8" stroke-linecap="butt"/>
<path d="M96.5,273.1 L106.8,283.3" stroke-width="0.9" stroke-dasharray="9 1.8" stroke-linecap="butt"/>
<path d="M111.7,284.9 L130.2,321.8" stroke-width="0.9"/>
<path d="M114.2,283.7 L133.8,320.6" stroke-width="0.9" stroke-dasharray="9 1.8" stroke-linecap="butt"/>
<path d="M104.3,291.1 L111.7,303.4 L116.6,302.2" stroke-width="0.9" stroke-dasharray="9 1.8" stroke-linecap="butt"/>
<path d="M96.9,323.1 C97.5,322.2 99.2,319.4 100.5,318.0 C101.8,316.6 103.5,315.4 105.0,315.0 C106.5,314.6 108.4,314.8 109.5,315.5 C110.6,316.2 111.5,317.5 111.7,319.0 C111.9,320.5 111.5,323.2 110.5,324.5 C109.5,325.8 107.8,326.7 106.0,326.8 C104.2,326.9 101.5,325.6 100.0,325.0 C98.5,324.4 97.4,323.4 96.9,323.1" stroke-width="0.9"/>
<path d="M108.0,326.8 C109.6,326.8 114.7,327.4 117.8,326.8 C120.9,326.2 124.4,323.9 126.5,323.1 C128.6,322.3 129.6,322.0 130.2,321.8" stroke-width="0.9" stroke-dasharray="9 1.8" stroke-linecap="butt"/>
<path d="M94.5,300.0 C95.4,298.7 98.4,293.5 100.0,292.0 C101.6,290.5 103.6,291.2 104.3,291.1" stroke-width="0.9" stroke-dasharray="9 1.8" stroke-linecap="butt"/>
<ellipse cx="196.5" cy="296.5" rx="30.9" ry="21.7" transform="rotate(-61 196.5 296.5)" stroke-width="0.9" stroke-dasharray="9 1.8" stroke-linecap="butt"/>
<ellipse cx="198.2" cy="295.5" rx="24.8" ry="16.9" transform="rotate(-61 198.2 295.5)" stroke-width="0.9"/>
<ellipse cx="198.8" cy="296.1" rx="19.5" ry="14.3" transform="rotate(-61 198.8 296.1)" stroke-width="0.9"/>
<ellipse cx="200.0" cy="296.6" rx="17.0" ry="12.4" transform="rotate(-61 200.0 296.6)" stroke-width="0.9" stroke-dasharray="9 1.8" stroke-linecap="butt"/>
<path d="M172.5,285.0 C172.2,287.2 170.6,293.5 170.8,298.0 C171.1,302.5 172.3,308.0 174.0,312.0 C175.7,316.0 179.8,320.3 181.0,322.0" stroke-width="0.9"/>
<path d="M189.3,252.3 L203.8,262.0 L225.6,271.7" stroke-width="0.9" stroke-dasharray="6 1.8 1.5 1.8" stroke-linecap="butt"/>
<path d="M187.0,256.0 L190.7,252.6" stroke-width="0.9" stroke-dasharray="9 1.8" stroke-linecap="butt"/>
<path d="M190.2,254.0 L190.0,293.0 L189.6,327.0" stroke-width="0.8" stroke-dasharray="2.5 1.5"/>
<path d="M190.7,269.3 C192.0,268.9 195.6,267.1 198.4,266.7 C201.2,266.3 204.4,265.8 207.4,266.7 C210.4,267.6 214.2,269.8 216.4,271.9 C218.6,274.0 219.4,276.6 220.3,279.6 C221.2,282.6 221.6,286.5 221.6,289.9 C221.6,293.3 220.5,298.3 220.3,300.0" stroke-width="0.9" stroke-dasharray="9 1.8" stroke-linecap="butt"/>
<path d="M146.0,283.0 C147.0,282.5 150.0,280.2 152.0,280.0 C154.0,279.8 156.7,280.7 158.0,282.0 C159.3,283.3 160.3,286.3 160.0,288.0 C159.7,289.7 156.3,290.3 156.0,292.0 C155.7,293.7 158.2,296.0 158.0,298.0 C157.8,300.0 156.7,302.8 155.0,304.0 C153.3,305.2 149.8,305.7 148.0,305.0 C146.2,304.3 144.3,301.8 144.0,300.0 C143.7,298.2 146.2,296.0 146.0,294.0 C145.8,292.0 143.0,289.8 143.0,288.0 C143.0,286.2 145.5,283.8 146.0,283.0" stroke-width="0.9" stroke-dasharray="9 1.8" stroke-linecap="butt"/>
<ellipse cx="166.3" cy="264.4" rx="9.2" ry="5.6" transform="rotate(-61.0 166.3 264.4)" stroke-width="0.9"/>
<ellipse cx="166.8" cy="265.0" rx="7.2" ry="4.2" transform="rotate(-61.0 166.8 265.0)" stroke-width="0.5"/>
<path d="M176.0,258.0 L179.6,252.3 L183.0,262.0 L178.0,266.0" stroke-width="0.9" stroke-dasharray="9 1.8" stroke-linecap="butt"/>
<path d="M95.7,346.5 C99.8,344.2 114.2,336.0 120.3,332.9 C126.4,329.8 129.3,328.6 132.6,328.0 C135.9,327.4 138.8,328.8 140.0,329.0" stroke-width="0.9"/>
<path d="M95.7,344.0 C99.2,341.9 111.2,334.5 116.6,331.7 C122.0,328.9 126.1,327.8 128.0,327.0" stroke-width="0.9" stroke-dasharray="9 1.8" stroke-linecap="butt"/>
<path d="M140.0,329.0 C141.7,329.7 146.7,331.8 150.0,333.0 C153.3,334.2 156.1,335.3 160.0,336.3 C163.9,337.3 170.0,338.3 173.6,339.0 C177.2,339.7 178.4,340.8 181.8,340.3 C185.2,339.9 192.0,337.0 194.0,336.3" stroke-width="0.9"/>
<path d="M194.0,336.3 L217.2,317.2 L225.4,291.3" stroke-width="0.9" stroke-dasharray="9 1.8" stroke-linecap="butt"/>
<path d="M160.0,344.4 L178.0,342.0 L190.0,338.0" stroke-width="0.9" stroke-dasharray="9 1.8" stroke-linecap="butt"/>
<path d="M124.0,351.4 L146.2,337.8 L158.0,337.0" stroke-width="0.9" stroke-dasharray="9 1.8" stroke-linecap="butt"/>
<path d="M112.9,366.2 L158.5,346.5 L172.0,344.0" stroke-width="0.9" stroke-dasharray="9 1.8" stroke-linecap="butt"/>
<path d="M108.0,376.0 L140.0,360.0 L172.0,344.0" stroke-width="0.9"/>
<ellipse cx="107.4" cy="379.6" rx="4.3" ry="6.2" transform="rotate(15 107.4 379.6)" stroke-width="0.9"/>
<path d="M95.7,378.5 L103.1,382.2" stroke-width="0.9" stroke-dasharray="9 1.8" stroke-linecap="butt"/>
<path d="M95.7,390.8 L106.8,384.6" stroke-width="0.9" stroke-dasharray="9 1.8" stroke-linecap="butt"/>
<path d="M103.0,373.5 L100.0,378.0 L96.0,388.0" stroke-width="0.9" stroke-dasharray="9 1.8" stroke-linecap="butt"/>
<ellipse cx="168.1" cy="325.3" rx="2.8" ry="3.2" transform="rotate(0 168.1 325.3)" stroke-width="0.9"/>
<path d="M140.0,274.0 C141.7,273.0 146.7,270.7 150.0,268.0 C153.3,265.3 157.0,261.5 160.0,258.0 C163.0,254.5 165.3,250.0 168.0,247.0 C170.7,244.0 174.7,241.2 176.0,240.0" stroke-width="0.9" stroke-dasharray="9 1.8" stroke-linecap="butt"/>
<path d="M215.0,250.0 C216.2,252.0 220.2,258.4 222.0,262.0 C223.8,265.6 225.3,270.1 226.0,271.7" stroke-width="0.9" stroke-dasharray="9 1.8" stroke-linecap="butt"/>
<line x1="199" y1="143" x2="235" y2="164.7" stroke-dasharray="4 2" stroke-width="0.7"/>
<line x1="173.9" y1="389.6" x2="189.6" y2="399.3" stroke-width="0"/>
<path d="M98.1,819.0 L110.5,797.8 L112.3,798.2 L114.3,800.5 L114.7,803.9 L134.3,791.4 L137.4,793.3 L137.8,810.0 L114.7,822.4 L114.3,828.1 L98.1,819.0" stroke-width="1.1"/>
<path d="M100.7,819.4 L112.4,800.9" stroke-width="0.8"/>
<path d="M114.7,805.6 L135.1,794.4 L137.4,793.3" stroke-width="0.8"/>
<path d="M135.1,794.4 L135.5,811.2" stroke-width="0.8"/>
<text x="0" y="0" transform="matrix(0.8829 -0.4695 -0.0600 1 113.8 819.4) scale(0.78 1)" font-family="Liberation Sans, sans-serif" font-weight="bold" font-size="13.8" fill="#000" stroke="none">FWD</text>
</g>
</svg>
</body></html>
